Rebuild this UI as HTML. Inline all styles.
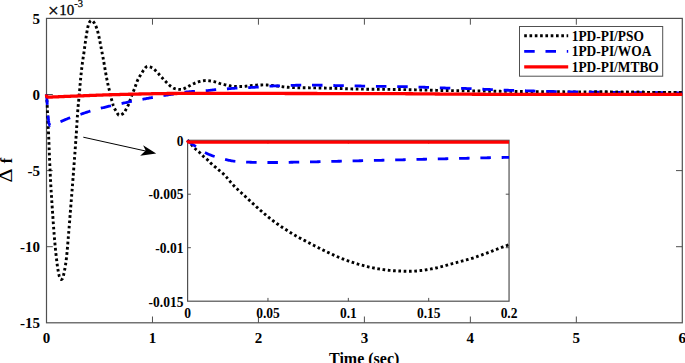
<!DOCTYPE html>
<html><head><meta charset="utf-8"><style>
html,body{margin:0;padding:0;background:#fff;width:685px;height:363px;overflow:hidden}
svg{display:block}
text{font-family:"Liberation Serif",serif;fill:#000}
.tl{font-size:15px;font-weight:bold}
.il{font-size:13.5px;font-weight:bold}
.lg{font-size:13.4px;font-weight:bold}
</style></head><body>
<svg width="685" height="363" viewBox="0 0 685 363">
<rect width="685" height="363" fill="#fff"/>
<rect x="46.5" y="18.4" width="635.80" height="304.40" fill="none" stroke="#505050" stroke-width="1.2"/>
<path d="M152.47,322.8 V316.5 M152.47,18.4 V24.7 M258.43,322.8 V316.5 M258.43,18.4 V24.7 M364.40,322.8 V316.5 M364.40,18.4 V24.7 M470.37,322.8 V316.5 M470.37,18.4 V24.7 M576.33,322.8 V316.5 M576.33,18.4 V24.7 M46.5,94.50 H52.8 M682.3,94.50 H676.0 M46.5,170.60 H52.8 M682.3,170.60 H676.0 M46.5,246.70 H52.8 M682.3,246.70 H676.0" stroke="#505050" stroke-width="1" fill="none"/>
<defs><clipPath id="tail"><rect x="592" y="0" width="100" height="363"/></clipPath></defs>
<g fill="none" stroke-linejoin="round">
<path d="M46.50,94.50 L46.57,95.42 L46.63,96.33 L46.70,97.25 L46.76,98.17 L46.82,99.08 L46.88,100.00 L46.94,100.92 L47.00,101.83 L47.05,102.75 L47.10,103.67 L47.15,104.58 L47.20,105.50 L47.25,106.45 L47.29,107.40 L47.33,108.35 L47.37,109.30 L47.41,110.25 L47.44,111.20 L47.48,112.15 L47.52,113.10 L47.56,114.05 L47.60,115.00 L47.64,115.91 L47.69,116.82 L47.73,117.73 L47.78,118.64 L47.82,119.55 L47.87,120.45 L47.91,121.36 L47.96,122.27 L48.01,123.18 L48.05,124.09 L48.10,125.00 L48.15,125.91 L48.19,126.82 L48.24,127.73 L48.29,128.64 L48.33,129.55 L48.38,130.45 L48.43,131.36 L48.47,132.27 L48.51,133.18 L48.56,134.09 L48.60,135.00 L48.64,135.96 L48.68,136.92 L48.73,137.88 L48.77,138.85 L48.81,139.81 L48.84,140.77 L48.88,141.73 L48.92,142.69 L48.96,143.65 L49.00,144.61 L49.03,145.58 L49.07,146.54 L49.10,147.50 L49.14,148.46 L49.18,149.42 L49.21,150.38 L49.25,151.35 L49.29,152.31 L49.32,153.27 L49.36,154.23 L49.40,155.19 L49.44,156.15 L49.48,157.12 L49.52,158.08 L49.56,159.04 L49.60,160.00 L49.64,160.96 L49.68,161.92 L49.73,162.89 L49.77,163.85 L49.81,164.81 L49.86,165.77 L49.90,166.73 L49.94,167.69 L49.99,168.66 L50.03,169.62 L50.07,170.58 L50.12,171.54 L50.17,172.50 L50.21,173.46 L50.26,174.43 L50.30,175.39 L50.35,176.35 L50.40,177.31 L50.45,178.27 L50.50,179.23 L50.54,180.19 L50.59,181.16 L50.64,182.12 L50.70,183.08 L50.75,184.04 L50.80,185.00 L50.85,185.96 L50.91,186.92 L50.96,187.89 L51.02,188.85 L51.08,189.81 L51.13,190.77 L51.19,191.73 L51.25,192.69 L51.31,193.66 L51.37,194.62 L51.44,195.58 L51.50,196.54 L51.56,197.50 L51.62,198.46 L51.69,199.43 L51.75,200.39 L51.81,201.35 L51.88,202.31 L51.94,203.27 L52.01,204.23 L52.07,205.19 L52.14,206.15 L52.20,207.12 L52.27,208.08 L52.33,209.04 L52.40,210.00 L52.47,210.96 L52.53,211.92 L52.60,212.89 L52.66,213.85 L52.73,214.81 L52.79,215.77 L52.86,216.73 L52.92,217.69 L52.99,218.66 L53.05,219.62 L53.12,220.58 L53.19,221.54 L53.25,222.50 L53.32,223.47 L53.39,224.43 L53.46,225.39 L53.53,226.35 L53.60,227.31 L53.67,228.27 L53.75,229.23 L53.82,230.20 L53.89,231.16 L53.97,232.12 L54.04,233.08 L54.12,234.04 L54.20,235.00 L54.28,235.96 L54.36,236.92 L54.44,237.88 L54.52,238.84 L54.60,239.80 L54.69,240.76 L54.77,241.72 L54.86,242.67 L54.94,243.63 L55.03,244.59 L55.12,245.55 L55.21,246.51 L55.30,247.47 L55.39,248.43 L55.48,249.39 L55.58,250.34 L55.68,251.30 L55.77,252.26 L55.87,253.22 L55.98,254.17 L56.08,255.13 L56.18,256.09 L56.29,257.04 L56.40,258.00 L56.51,258.93 L56.62,259.86 L56.72,260.80 L56.84,261.73 L56.95,262.66 L57.07,263.59 L57.19,264.52 L57.31,265.45 L57.45,266.38 L57.58,267.31 L57.73,268.24 L57.88,269.16 L58.03,270.08 L58.20,271.00 L58.36,271.90 L58.53,272.81 L58.71,273.72 L58.91,274.63 L59.13,275.53 L59.38,276.39 L59.67,277.22 L60.00,278.00 L60.57,278.96 L61.30,279.50 L62.01,279.15 L62.60,278.50 L62.95,277.75 L63.21,276.87 L63.43,275.91 L63.61,274.94 L63.80,274.00 L64.00,273.08 L64.19,272.15 L64.38,271.22 L64.56,270.29 L64.74,269.36 L64.91,268.43 L65.08,267.50 L65.24,266.56 L65.39,265.62 L65.54,264.69 L65.69,263.75 L65.82,262.81 L65.96,261.88 L66.08,260.94 L66.20,260.00 L66.32,259.04 L66.43,258.09 L66.54,257.13 L66.64,256.17 L66.74,255.21 L66.84,254.25 L66.94,253.29 L67.03,252.33 L67.12,251.37 L67.21,250.41 L67.30,249.44 L67.38,248.48 L67.47,247.52 L67.55,246.56 L67.63,245.59 L67.71,244.63 L67.79,243.67 L67.87,242.70 L67.94,241.74 L68.02,240.78 L68.10,239.81 L68.18,238.85 L68.26,237.89 L68.34,236.92 L68.42,235.96 L68.50,235.00 L68.58,234.04 L68.66,233.08 L68.74,232.12 L68.82,231.16 L68.90,230.19 L68.98,229.23 L69.06,228.27 L69.14,227.31 L69.21,226.35 L69.29,225.39 L69.37,224.42 L69.44,223.46 L69.52,222.50 L69.59,221.54 L69.67,220.58 L69.74,219.62 L69.82,218.65 L69.89,217.69 L69.97,216.73 L70.04,215.77 L70.12,214.81 L70.20,213.85 L70.27,212.88 L70.35,211.92 L70.42,210.96 L70.50,210.00 L70.58,209.04 L70.65,208.08 L70.73,207.12 L70.81,206.15 L70.89,205.19 L70.96,204.23 L71.04,203.27 L71.12,202.31 L71.20,201.35 L71.27,200.38 L71.35,199.42 L71.43,198.46 L71.51,197.50 L71.58,196.54 L71.66,195.58 L71.74,194.62 L71.82,193.65 L71.89,192.69 L71.97,191.73 L72.05,190.77 L72.12,189.81 L72.20,188.85 L72.27,187.88 L72.35,186.92 L72.42,185.96 L72.50,185.00 L72.57,184.04 L72.65,183.08 L72.72,182.12 L72.80,181.15 L72.87,180.19 L72.95,179.23 L73.02,178.27 L73.10,177.31 L73.17,176.35 L73.24,175.39 L73.32,174.42 L73.39,173.46 L73.46,172.50 L73.54,171.54 L73.61,170.58 L73.68,169.62 L73.75,168.65 L73.83,167.69 L73.90,166.73 L73.97,165.77 L74.04,164.81 L74.11,163.85 L74.19,162.88 L74.26,161.92 L74.33,160.96 L74.40,160.00 L74.47,159.04 L74.54,158.08 L74.61,157.12 L74.68,156.15 L74.75,155.19 L74.83,154.23 L74.90,153.27 L74.97,152.31 L75.04,151.35 L75.11,150.39 L75.18,149.42 L75.25,148.46 L75.32,147.50 L75.39,146.54 L75.46,145.58 L75.52,144.62 L75.59,143.65 L75.66,142.69 L75.73,141.73 L75.80,140.77 L75.87,139.81 L75.93,138.85 L76.00,137.89 L76.07,136.92 L76.13,135.96 L76.20,135.00 L76.27,134.04 L76.33,133.07 L76.39,132.11 L76.45,131.15 L76.51,130.18 L76.58,129.22 L76.63,128.26 L76.69,127.30 L76.75,126.33 L76.81,125.37 L76.87,124.40 L76.93,123.44 L76.99,122.48 L77.05,121.51 L77.10,120.55 L77.16,119.59 L77.23,118.63 L77.29,117.66 L77.35,116.70 L77.41,115.74 L77.48,114.77 L77.54,113.81 L77.61,112.85 L77.68,111.89 L77.75,110.92 L77.82,109.96 L77.90,109.00 L77.98,108.03 L78.06,107.05 L78.15,106.08 L78.24,105.10 L78.34,104.13 L78.43,103.16 L78.53,102.19 L78.63,101.21 L78.73,100.24 L78.83,99.27 L78.93,98.29 L79.02,97.32 L79.12,96.35 L79.21,95.37 L79.30,94.40 L79.39,93.44 L79.47,92.47 L79.55,91.51 L79.63,90.54 L79.71,89.58 L79.79,88.61 L79.87,87.65 L79.95,86.68 L80.02,85.72 L80.10,84.75 L80.18,83.79 L80.26,82.82 L80.35,81.86 L80.43,80.89 L80.52,79.93 L80.61,78.96 L80.70,78.00 L80.80,77.02 L80.90,76.03 L81.00,75.05 L81.10,74.07 L81.21,73.09 L81.32,72.11 L81.43,71.12 L81.54,70.14 L81.65,69.16 L81.77,68.18 L81.88,67.20 L82.00,66.22 L82.13,65.24 L82.25,64.26 L82.37,63.28 L82.50,62.30 L82.63,61.32 L82.77,60.33 L82.91,59.35 L83.06,58.37 L83.21,57.39 L83.36,56.41 L83.51,55.43 L83.66,54.45 L83.81,53.46 L83.96,52.48 L84.10,51.50 L84.23,50.56 L84.36,49.63 L84.49,48.69 L84.61,47.75 L84.73,46.82 L84.86,45.88 L84.98,44.94 L85.11,44.01 L85.24,43.07 L85.37,42.14 L85.50,41.20 L85.64,40.23 L85.78,39.26 L85.92,38.28 L86.06,37.31 L86.21,36.34 L86.35,35.37 L86.51,34.40 L86.66,33.43 L86.83,32.47 L87.00,31.50 L87.17,30.56 L87.34,29.62 L87.52,28.68 L87.71,27.75 L87.91,26.82 L88.14,25.90 L88.40,25.00 L88.70,24.07 L89.06,23.13 L89.49,22.25 L90.00,21.50 L90.64,20.85 L91.40,20.50 L92.18,20.78 L92.90,21.30 L93.46,21.88 L93.96,22.58 L94.40,23.30 L94.82,24.04 L95.23,24.80 L95.61,25.58 L95.97,26.38 L96.31,27.18 L96.62,27.99 L96.90,28.80 L97.20,29.73 L97.48,30.68 L97.74,31.63 L97.99,32.59 L98.22,33.55 L98.45,34.52 L98.67,35.49 L98.88,36.46 L99.09,37.43 L99.30,38.40 L99.50,39.33 L99.69,40.27 L99.88,41.20 L100.06,42.14 L100.24,43.07 L100.42,44.01 L100.60,44.95 L100.77,45.89 L100.94,46.83 L101.12,47.76 L101.30,48.70 L101.49,49.66 L101.67,50.62 L101.86,51.57 L102.04,52.53 L102.23,53.49 L102.41,54.45 L102.60,55.41 L102.78,56.36 L102.96,57.32 L103.15,58.28 L103.32,59.24 L103.50,60.20 L103.67,61.14 L103.83,62.07 L104.00,63.01 L104.16,63.95 L104.32,64.89 L104.48,65.83 L104.63,66.76 L104.79,67.70 L104.95,68.64 L105.11,69.58 L105.26,70.52 L105.43,71.45 L105.59,72.39 L105.76,73.33 L105.93,74.26 L106.10,75.20 L106.27,76.10 L106.44,77.00 L106.62,77.91 L106.79,78.81 L106.97,79.71 L107.15,80.61 L107.33,81.51 L107.52,82.41 L107.71,83.31 L107.90,84.21 L108.10,85.10 L108.30,86.00 L108.50,86.86 L108.71,87.72 L108.93,88.57 L109.16,89.43 L109.38,90.28 L109.59,91.14 L109.80,92.00 L110.01,92.92 L110.20,93.83 L110.39,94.75 L110.58,95.67 L110.78,96.59 L111.00,97.50 L111.24,98.40 L111.50,99.31 L111.76,100.20 L112.03,101.10 L112.30,102.00 L112.55,102.91 L112.79,103.82 L113.03,104.73 L113.30,105.62 L113.60,106.50 L113.92,107.28 L114.28,108.05 L114.68,108.81 L115.11,109.55 L115.55,110.28 L116.00,111.00 L116.50,111.85 L117.02,112.79 L117.56,113.72 L118.14,114.52 L118.75,115.09 L119.40,115.30 L120.18,115.17 L121.08,114.82 L122.01,114.33 L122.88,113.77 L123.60,113.20 L124.14,112.63 L124.62,111.95 L125.06,111.19 L125.48,110.38 L125.89,109.58 L126.30,108.80 L126.71,108.06 L127.12,107.32 L127.51,106.58 L127.89,105.83 L128.26,105.07 L128.60,104.30 L128.95,103.43 L129.28,102.56 L129.58,101.67 L129.89,100.78 L130.19,99.89 L130.50,99.00 L130.83,98.08 L131.16,97.16 L131.48,96.24 L131.82,95.33 L132.15,94.41 L132.50,93.50 L132.87,92.58 L133.25,91.66 L133.64,90.74 L134.03,89.82 L134.40,88.90 L134.76,87.97 L135.10,87.04 L135.43,86.09 L135.76,85.15 L136.09,84.21 L136.42,83.27 L136.76,82.33 L137.12,81.41 L137.50,80.50 L137.90,79.60 L138.32,78.75 L138.78,77.91 L139.26,77.07 L139.76,76.25 L140.28,75.43 L140.79,74.62 L141.30,73.80 L141.78,73.01 L142.25,72.22 L142.73,71.43 L143.22,70.65 L143.74,69.90 L144.30,69.20 L144.85,68.51 L145.44,67.77 L146.06,67.09 L146.71,66.59 L147.40,66.40 L148.16,66.47 L149.00,66.64 L149.87,66.89 L150.71,67.19 L151.50,67.50 L152.28,67.88 L153.04,68.37 L153.77,68.94 L154.47,69.55 L155.16,70.20 L155.84,70.86 L156.50,71.50 L157.10,72.10 L157.69,72.73 L158.25,73.38 L158.81,74.04 L159.37,74.70 L159.93,75.36 L160.50,76.00 L161.11,76.66 L161.72,77.32 L162.33,77.98 L162.95,78.64 L163.56,79.29 L164.18,79.95 L164.80,80.60 L165.47,81.31 L166.13,82.02 L166.81,82.72 L167.50,83.40 L168.21,84.08 L168.93,84.76 L169.66,85.42 L170.42,86.04 L171.20,86.60 L171.92,87.07 L172.66,87.54 L173.42,87.99 L174.20,88.39 L175.00,88.70 L175.80,88.90 L176.65,89.03 L177.54,89.15 L178.43,89.25 L179.33,89.33 L180.23,89.38 L181.10,89.40 L182.00,89.31 L182.90,89.07 L183.79,88.73 L184.67,88.32 L185.54,87.90 L186.40,87.50 L187.18,87.13 L187.95,86.72 L188.71,86.28 L189.47,85.84 L190.23,85.41 L191.00,85.00 L191.87,84.57 L192.74,84.14 L193.62,83.72 L194.51,83.32 L195.40,82.94 L196.30,82.60 L197.22,82.27 L198.16,81.96 L199.10,81.66 L200.05,81.41 L201.00,81.20 L201.86,81.04 L202.72,80.88 L203.59,80.73 L204.46,80.61 L205.33,80.53 L206.20,80.50 L207.08,80.53 L207.97,80.60 L208.86,80.70 L209.74,80.83 L210.62,80.96 L211.50,81.10 L212.37,81.25 L213.25,81.42 L214.12,81.62 L214.98,81.83 L215.85,82.06 L216.70,82.30 L217.65,82.61 L218.58,82.97 L219.51,83.35 L220.45,83.70 L221.40,84.00 L222.35,84.24 L223.31,84.45 L224.28,84.65 L225.26,84.83 L226.23,85.01 L227.20,85.20 L228.08,85.38 L228.96,85.58 L229.84,85.77 L230.73,85.95 L231.61,86.10 L232.50,86.20 L233.38,86.28 L234.26,86.35 L235.14,86.41 L236.03,86.46 L236.92,86.49 L237.80,86.50 L238.67,86.50 L239.53,86.50 L240.40,86.50 L241.27,86.50 L242.14,86.50 L243.00,86.50 L243.89,86.47 L244.77,86.39 L245.65,86.27 L246.53,86.14 L247.42,86.01 L248.30,85.90 L249.25,85.79 L250.20,85.68 L251.15,85.58 L252.10,85.47 L253.05,85.38 L254.00,85.30 L254.83,85.24 L255.67,85.18 L256.50,85.12 L257.33,85.07 L258.17,85.03 L259.00,85.00 L259.92,84.97 L260.83,84.95 L261.75,84.93 L262.67,84.91 L263.58,84.90 L264.50,84.90 L265.46,84.91 L266.41,84.95 L267.37,85.01 L268.32,85.08 L269.28,85.17 L270.23,85.27 L271.19,85.37 L272.14,85.48 L273.09,85.59 L274.05,85.70 L275.00,85.80 L275.96,85.90 L276.93,86.02 L277.89,86.15 L278.85,86.28 L279.82,86.41 L280.78,86.55 L281.74,86.68 L282.71,86.80 L283.67,86.91 L284.63,87.02 L285.60,87.10 L286.54,87.17 L287.49,87.25 L288.43,87.32 L289.38,87.39 L290.32,87.45 L291.27,87.51 L292.21,87.56 L293.16,87.61 L294.11,87.65 L295.05,87.68 L296.00,87.70 L296.96,87.71 L297.93,87.73 L298.89,87.74 L299.85,87.75 L300.82,87.75 L301.78,87.76 L302.74,87.77 L303.71,87.77 L304.67,87.78 L305.64,87.79 L306.60,87.80 L307.56,87.81 L308.53,87.82 L309.49,87.83 L310.45,87.84 L311.41,87.85 L312.38,87.86 L313.34,87.87 L314.30,87.89 L315.26,87.90 L316.23,87.91 L317.19,87.92 L318.15,87.94 L319.11,87.95 L320.08,87.97 L321.04,87.98 L322.00,88.00 L322.94,88.02 L323.89,88.04 L324.83,88.06 L325.78,88.09 L326.72,88.11 L327.67,88.14 L328.61,88.17 L329.56,88.20 L330.50,88.23 L331.44,88.26 L332.39,88.29 L333.33,88.32 L334.28,88.35 L335.22,88.38 L336.17,88.41 L337.11,88.44 L338.06,88.47 L339.00,88.50 L339.95,88.53 L340.91,88.56 L341.86,88.59 L342.82,88.62 L343.77,88.65 L344.73,88.68 L345.68,88.71 L346.64,88.74 L347.59,88.78 L348.54,88.81 L349.50,88.84 L350.45,88.87 L351.41,88.90 L352.36,88.93 L353.32,88.95 L354.27,88.98 L355.23,89.00 L356.18,89.03 L357.14,89.05 L358.09,89.07 L359.05,89.09 L360.00,89.10 L360.95,89.11 L361.91,89.13 L362.86,89.14 L363.82,89.15 L364.77,89.16 L365.73,89.17 L366.68,89.18 L367.64,89.18 L368.59,89.19 L369.55,89.20 L370.50,89.21 L371.45,89.21 L372.41,89.22 L373.36,89.23 L374.32,89.24 L375.27,89.25 L376.23,89.25 L377.18,89.26 L378.14,89.27 L379.09,89.28 L380.05,89.29 L381.00,89.30 L381.95,89.31 L382.91,89.32 L383.86,89.33 L384.82,89.35 L385.77,89.36 L386.73,89.37 L387.68,89.38 L388.64,89.40 L389.59,89.41 L390.55,89.42 L391.50,89.44 L392.45,89.45 L393.41,89.47 L394.36,89.48 L395.32,89.49 L396.27,89.51 L397.23,89.52 L398.18,89.54 L399.14,89.55 L400.09,89.57 L401.05,89.58 L402.00,89.60 L402.95,89.62 L403.91,89.63 L404.86,89.65 L405.82,89.66 L406.77,89.68 L407.73,89.70 L408.68,89.72 L409.64,89.73 L410.59,89.75 L411.55,89.77 L412.50,89.79 L413.45,89.81 L414.41,89.82 L415.36,89.84 L416.32,89.86 L417.27,89.88 L418.23,89.90 L419.18,89.92 L420.14,89.94 L421.09,89.96 L422.05,89.98 L423.00,90.00 L423.95,90.02 L424.91,90.04 L425.86,90.06 L426.82,90.09 L427.77,90.11 L428.73,90.14 L429.68,90.16 L430.64,90.18 L431.59,90.21 L432.55,90.23 L433.50,90.26 L434.45,90.28 L435.41,90.31 L436.36,90.33 L437.32,90.36 L438.27,90.38 L439.23,90.40 L440.18,90.42 L441.14,90.44 L442.09,90.46 L443.05,90.48 L444.00,90.50 L444.95,90.52 L445.91,90.53 L446.86,90.55 L447.82,90.56 L448.77,90.58 L449.73,90.59 L450.68,90.61 L451.64,90.62 L452.59,90.63 L453.55,90.64 L454.50,90.66 L455.45,90.67 L456.41,90.68 L457.36,90.69 L458.32,90.71 L459.27,90.72 L460.23,90.73 L461.18,90.75 L462.14,90.76 L463.09,90.77 L464.05,90.79 L465.00,90.80 L465.96,90.81 L466.92,90.83 L467.88,90.85 L468.85,90.86 L469.81,90.88 L470.77,90.89 L471.73,90.91 L472.69,90.93 L473.65,90.94 L474.62,90.96 L475.58,90.98 L476.54,90.99 L477.50,91.01 L478.46,91.02 L479.42,91.04 L480.38,91.06 L481.35,91.07 L482.31,91.09 L483.27,91.10 L484.23,91.12 L485.19,91.13 L486.15,91.15 L487.12,91.16 L488.08,91.18 L489.04,91.19 L490.00,91.20 L490.97,91.21 L491.94,91.22 L492.90,91.24 L493.87,91.25 L494.84,91.26 L495.81,91.27 L496.77,91.28 L497.74,91.29 L498.71,91.30 L499.68,91.31 L500.64,91.32 L501.61,91.33 L502.58,91.34 L503.55,91.35 L504.52,91.36 L505.48,91.37 L506.45,91.38 L507.42,91.39 L508.39,91.40 L509.35,91.41 L510.32,91.41 L511.29,91.42 L512.26,91.43 L513.23,91.44 L514.19,91.45 L515.16,91.46 L516.13,91.47 L517.10,91.47 L518.06,91.48 L519.03,91.49 L520.00,91.50 L520.98,91.51 L521.95,91.52 L522.93,91.53 L523.90,91.53 L524.88,91.54 L525.85,91.55 L526.83,91.56 L527.80,91.57 L528.78,91.57 L529.76,91.58 L530.73,91.59 L531.71,91.60 L532.68,91.61 L533.66,91.61 L534.63,91.62 L535.61,91.63 L536.59,91.64 L537.56,91.64 L538.54,91.65 L539.51,91.66 L540.49,91.67 L541.46,91.67 L542.44,91.68 L543.41,91.69 L544.39,91.70 L545.37,91.70 L546.34,91.71 L547.32,91.72 L548.29,91.72 L549.27,91.73 L550.24,91.74 L551.22,91.74 L552.20,91.75 L553.17,91.76 L554.15,91.76 L555.12,91.77 L556.10,91.78 L557.07,91.78 L558.05,91.79 L559.02,91.79 L560.00,91.80 L560.98,91.81 L561.95,91.81 L562.93,91.82 L563.90,91.82 L564.88,91.83 L565.85,91.83 L566.83,91.84 L567.80,91.84 L568.78,91.85 L569.76,91.85 L570.73,91.86 L571.71,91.86 L572.68,91.87 L573.66,91.87 L574.63,91.88 L575.61,91.88 L576.59,91.88 L577.56,91.89 L578.54,91.89 L579.51,91.90 L580.49,91.90 L581.46,91.91 L582.44,91.91 L583.41,91.92 L584.39,91.92 L585.37,91.92 L586.34,91.93 L587.32,91.93 L588.29,91.94 L589.27,91.94 L590.24,91.95 L591.22,91.95 L592.20,91.96 L593.17,91.96 L594.15,91.97 L595.12,91.97 L596.10,91.98 L597.07,91.98 L598.05,91.99 L599.02,91.99 L600.00,92.00 L600.98,92.01 L601.95,92.01 L602.93,92.02 L603.90,92.03 L604.88,92.03 L605.85,92.04 L606.83,92.05 L607.80,92.05 L608.78,92.06 L609.76,92.07 L610.73,92.08 L611.71,92.08 L612.68,92.09 L613.66,92.10 L614.63,92.11 L615.61,92.11 L616.59,92.12 L617.56,92.13 L618.54,92.14 L619.51,92.15 L620.49,92.15 L621.46,92.16 L622.44,92.17 L623.41,92.18 L624.39,92.19 L625.37,92.20 L626.34,92.20 L627.32,92.21 L628.29,92.22 L629.27,92.23 L630.24,92.23 L631.22,92.24 L632.20,92.25 L633.17,92.26 L634.15,92.26 L635.12,92.27 L636.10,92.28 L637.07,92.28 L638.05,92.29 L639.02,92.29 L640.00,92.30 L640.98,92.31 L641.97,92.31 L642.95,92.32 L643.93,92.32 L644.92,92.33 L645.90,92.33 L646.89,92.34 L647.87,92.34 L648.85,92.35 L649.84,92.36 L650.82,92.36 L651.80,92.37 L652.79,92.37 L653.77,92.38 L654.76,92.38 L655.74,92.39 L656.72,92.39 L657.71,92.40 L658.69,92.40 L659.67,92.41 L660.66,92.41 L661.64,92.42 L662.63,92.42 L663.61,92.42 L664.59,92.43 L665.58,92.43 L666.56,92.44 L667.54,92.44 L668.53,92.45 L669.51,92.45 L670.50,92.46 L671.48,92.46 L672.46,92.46 L673.45,92.47 L674.43,92.47 L675.41,92.48 L676.40,92.48 L677.38,92.48 L678.37,92.49 L679.35,92.49 L680.33,92.49 L681.32,92.50 L682.30,92.50" stroke="#000" stroke-width="2.9" stroke-dasharray="2.65 2.65"/>
<path d="M46.50,94.50 L46.58,95.47 L46.65,96.45 L46.73,97.42 L46.80,98.40 L46.87,99.34 L46.94,100.29 L47.02,101.23 L47.09,102.17 L47.16,103.11 L47.23,104.06 L47.30,105.00 L47.36,105.87 L47.43,106.75 L47.49,107.63 L47.55,108.50 L47.61,109.38 L47.67,110.25 L47.73,111.13 L47.80,112.00 L47.87,112.86 L47.93,113.72 L48.00,114.57 L48.06,115.43 L48.14,116.29 L48.21,117.14 L48.30,118.00 L48.39,118.84 L48.48,119.68 L48.58,120.52 L48.70,121.36 L48.84,122.19 L49.00,123.00 L49.23,124.03 L49.56,125.04 L50.00,125.50 L50.67,125.47 L51.50,125.40 L52.40,125.19 L53.27,124.83 L54.13,124.40 L55.00,124.00 L55.86,123.65 L56.72,123.29 L57.57,122.94 L58.43,122.58 L59.29,122.22 L60.14,121.86 L61.00,121.50 L61.86,121.14 L62.72,120.77 L63.57,120.40 L64.43,120.03 L65.28,119.65 L66.14,119.29 L67.00,118.93 L67.86,118.57 L68.73,118.23 L69.60,117.90 L70.50,117.57 L71.41,117.25 L72.33,116.94 L73.24,116.64 L74.16,116.34 L75.08,116.05 L76.00,115.76 L76.92,115.47 L77.84,115.18 L78.76,114.89 L79.68,114.60 L80.60,114.30 L81.54,113.99 L82.48,113.67 L83.42,113.35 L84.35,113.04 L85.29,112.72 L86.23,112.40 L87.17,112.09 L88.11,111.79 L89.05,111.49 L90.00,111.20 L90.91,110.93 L91.82,110.67 L92.74,110.40 L93.65,110.15 L94.57,109.90 L95.48,109.65 L96.40,109.40 L97.32,109.16 L98.24,108.92 L99.16,108.68 L100.08,108.44 L101.00,108.20 L101.90,107.97 L102.80,107.74 L103.69,107.52 L104.59,107.29 L105.49,107.07 L106.39,106.85 L107.29,106.63 L108.20,106.42 L109.10,106.21 L110.00,106.00 L110.94,105.79 L111.88,105.58 L112.82,105.38 L113.76,105.18 L114.70,104.98 L115.65,104.78 L116.59,104.59 L117.53,104.39 L118.47,104.20 L119.42,104.00 L120.36,103.80 L121.30,103.60 L122.27,103.39 L123.24,103.18 L124.21,102.97 L125.18,102.75 L126.15,102.54 L127.12,102.32 L128.09,102.11 L129.06,101.91 L130.03,101.70 L131.00,101.50 L131.96,101.31 L132.91,101.12 L133.87,100.93 L134.83,100.74 L135.79,100.56 L136.74,100.37 L137.70,100.19 L138.66,100.01 L139.62,99.83 L140.58,99.65 L141.54,99.48 L142.50,99.30 L143.42,99.13 L144.33,98.97 L145.25,98.80 L146.17,98.64 L147.09,98.47 L148.01,98.31 L148.93,98.15 L149.84,97.99 L150.76,97.82 L151.68,97.66 L152.60,97.50 L153.58,97.33 L154.56,97.15 L155.54,96.97 L156.53,96.80 L157.51,96.62 L158.49,96.44 L159.47,96.27 L160.45,96.10 L161.43,95.93 L162.42,95.76 L163.40,95.60 L164.35,95.45 L165.31,95.30 L166.26,95.15 L167.22,95.01 L168.17,94.86 L169.13,94.72 L170.08,94.58 L171.04,94.44 L171.99,94.30 L172.95,94.15 L173.90,94.00 L174.81,93.85 L175.72,93.70 L176.62,93.54 L177.53,93.37 L178.44,93.21 L179.34,93.04 L180.25,92.88 L181.16,92.73 L182.07,92.58 L182.98,92.44 L183.89,92.31 L184.80,92.20 L185.71,92.10 L186.61,92.00 L187.52,91.91 L188.43,91.82 L189.34,91.73 L190.25,91.65 L191.16,91.57 L192.07,91.50 L192.98,91.43 L193.89,91.36 L194.80,91.30 L195.73,91.24 L196.67,91.19 L197.60,91.14 L198.53,91.09 L199.47,91.05 L200.40,91.01 L201.34,90.96 L202.27,90.92 L203.20,90.87 L204.14,90.82 L205.07,90.76 L206.00,90.70 L206.99,90.62 L207.98,90.52 L208.97,90.41 L209.96,90.29 L210.95,90.17 L211.94,90.04 L212.93,89.92 L213.92,89.80 L214.91,89.69 L215.90,89.60 L216.84,89.52 L217.78,89.45 L218.72,89.37 L219.66,89.31 L220.61,89.24 L221.55,89.18 L222.49,89.11 L223.43,89.05 L224.37,88.99 L225.32,88.93 L226.26,88.87 L227.20,88.80 L228.11,88.73 L229.02,88.67 L229.93,88.60 L230.84,88.53 L231.74,88.46 L232.65,88.40 L233.56,88.33 L234.47,88.27 L235.38,88.21 L236.29,88.15 L237.20,88.10 L238.12,88.05 L239.03,88.01 L239.95,87.96 L240.87,87.92 L241.78,87.88 L242.70,87.84 L243.62,87.81 L244.53,87.77 L245.45,87.73 L246.37,87.69 L247.28,87.64 L248.20,87.60 L249.15,87.55 L250.11,87.50 L251.06,87.45 L252.02,87.40 L252.97,87.35 L253.93,87.29 L254.88,87.24 L255.84,87.18 L256.79,87.12 L257.75,87.06 L258.70,87.00 L259.64,86.93 L260.58,86.86 L261.53,86.78 L262.47,86.69 L263.41,86.60 L264.35,86.52 L265.29,86.43 L266.23,86.35 L267.17,86.27 L268.12,86.21 L269.06,86.15 L270.00,86.10 L270.91,86.06 L271.82,86.03 L272.73,86.00 L273.63,85.97 L274.54,85.95 L275.45,85.93 L276.36,85.90 L277.27,85.88 L278.18,85.85 L279.09,85.83 L280.00,85.80 L280.92,85.77 L281.83,85.74 L282.75,85.70 L283.67,85.66 L284.58,85.63 L285.50,85.59 L286.42,85.55 L287.33,85.52 L288.25,85.49 L289.17,85.45 L290.08,85.43 L291.00,85.40 L291.97,85.37 L292.94,85.35 L293.91,85.32 L294.88,85.29 L295.85,85.27 L296.82,85.25 L297.79,85.23 L298.76,85.21 L299.73,85.20 L300.70,85.20 L301.65,85.20 L302.61,85.20 L303.56,85.20 L304.51,85.20 L305.47,85.20 L306.42,85.20 L307.37,85.20 L308.33,85.20 L309.28,85.20 L310.23,85.20 L311.19,85.20 L312.14,85.20 L313.09,85.20 L314.05,85.20 L315.00,85.20 L315.96,85.20 L316.92,85.21 L317.88,85.21 L318.83,85.22 L319.79,85.23 L320.75,85.24 L321.71,85.26 L322.67,85.27 L323.63,85.29 L324.58,85.31 L325.54,85.33 L326.50,85.35 L327.46,85.37 L328.42,85.39 L329.38,85.41 L330.33,85.44 L331.29,85.46 L332.25,85.48 L333.21,85.50 L334.17,85.52 L335.13,85.54 L336.08,85.56 L337.04,85.58 L338.00,85.60 L338.96,85.62 L339.91,85.63 L340.87,85.65 L341.83,85.67 L342.78,85.69 L343.74,85.70 L344.70,85.72 L345.65,85.74 L346.61,85.75 L347.57,85.77 L348.52,85.79 L349.48,85.81 L350.43,85.82 L351.39,85.84 L352.35,85.86 L353.30,85.88 L354.26,85.89 L355.22,85.91 L356.17,85.93 L357.13,85.95 L358.09,85.96 L359.04,85.98 L360.00,86.00 L360.95,86.02 L361.91,86.04 L362.86,86.06 L363.82,86.07 L364.77,86.09 L365.73,86.11 L366.68,86.13 L367.64,86.15 L368.59,86.17 L369.55,86.19 L370.50,86.21 L371.45,86.23 L372.41,86.25 L373.36,86.27 L374.32,86.29 L375.27,86.31 L376.23,86.32 L377.18,86.34 L378.14,86.36 L379.09,86.37 L380.05,86.39 L381.00,86.40 L381.95,86.41 L382.90,86.42 L383.85,86.43 L384.80,86.44 L385.75,86.45 L386.70,86.46 L387.65,86.47 L388.60,86.48 L389.55,86.49 L390.50,86.50 L391.45,86.51 L392.40,86.51 L393.35,86.52 L394.30,86.53 L395.25,86.54 L396.20,86.55 L397.15,86.56 L398.10,86.57 L399.05,86.59 L400.00,86.60 L400.96,86.61 L401.92,86.63 L402.88,86.65 L403.83,86.67 L404.79,86.69 L405.75,86.71 L406.71,86.73 L407.67,86.75 L408.63,86.78 L409.58,86.80 L410.54,86.83 L411.50,86.86 L412.46,86.88 L413.42,86.91 L414.38,86.94 L415.33,86.97 L416.29,86.99 L417.25,87.02 L418.21,87.05 L419.17,87.08 L420.13,87.11 L421.08,87.14 L422.04,87.17 L423.00,87.20 L423.96,87.23 L424.91,87.26 L425.87,87.29 L426.83,87.33 L427.78,87.36 L428.74,87.40 L429.70,87.44 L430.65,87.47 L431.61,87.51 L432.57,87.55 L433.52,87.59 L434.48,87.62 L435.43,87.66 L436.39,87.70 L437.35,87.74 L438.30,87.77 L439.26,87.81 L440.22,87.84 L441.17,87.88 L442.13,87.91 L443.09,87.94 L444.04,87.97 L445.00,88.00 L445.95,88.03 L446.91,88.05 L447.86,88.08 L448.82,88.10 L449.77,88.12 L450.73,88.14 L451.68,88.16 L452.64,88.19 L453.59,88.21 L454.55,88.23 L455.50,88.25 L456.46,88.27 L457.41,88.29 L458.36,88.31 L459.32,88.33 L460.27,88.35 L461.23,88.37 L462.18,88.39 L463.14,88.42 L464.09,88.44 L465.05,88.47 L466.00,88.50 L466.95,88.53 L467.91,88.56 L468.86,88.60 L469.82,88.63 L470.77,88.67 L471.73,88.71 L472.68,88.75 L473.64,88.79 L474.59,88.83 L475.55,88.88 L476.50,88.92 L477.46,88.96 L478.41,89.01 L479.36,89.05 L480.32,89.10 L481.27,89.14 L482.23,89.19 L483.18,89.23 L484.14,89.28 L485.09,89.32 L486.05,89.36 L487.00,89.40 L487.96,89.44 L488.91,89.48 L489.87,89.52 L490.83,89.56 L491.78,89.60 L492.74,89.65 L493.70,89.69 L494.65,89.73 L495.61,89.77 L496.56,89.81 L497.52,89.85 L498.48,89.89 L499.43,89.93 L500.39,89.97 L501.35,90.01 L502.30,90.05 L503.26,90.09 L504.22,90.13 L505.17,90.16 L506.13,90.20 L507.09,90.23 L508.04,90.27 L509.00,90.30 L509.95,90.33 L510.91,90.36 L511.86,90.39 L512.82,90.42 L513.77,90.45 L514.73,90.48 L515.68,90.51 L516.64,90.53 L517.59,90.56 L518.54,90.59 L519.50,90.61 L520.45,90.64 L521.41,90.66 L522.36,90.69 L523.32,90.72 L524.27,90.74 L525.23,90.77 L526.18,90.79 L527.14,90.82 L528.09,90.85 L529.05,90.87 L530.00,90.90 L530.95,90.93 L531.91,90.96 L532.86,90.98 L533.82,91.01 L534.77,91.04 L535.73,91.07 L536.68,91.10 L537.64,91.13 L538.59,91.16 L539.55,91.19 L540.50,91.22 L541.45,91.25 L542.41,91.27 L543.36,91.30 L544.32,91.33 L545.27,91.36 L546.23,91.38 L547.18,91.41 L548.14,91.43 L549.09,91.46 L550.05,91.48 L551.00,91.50 L551.97,91.52 L552.93,91.54 L553.90,91.56 L554.87,91.58 L555.83,91.60 L556.80,91.62 L557.77,91.64 L558.73,91.66 L559.70,91.67 L560.67,91.69 L561.63,91.71 L562.60,91.73 L563.57,91.74 L564.53,91.76 L565.50,91.77 L566.47,91.79 L567.43,91.81 L568.40,91.82 L569.37,91.84 L570.33,91.85 L571.30,91.87 L572.27,91.88 L573.23,91.90 L574.20,91.91 L575.17,91.93 L576.13,91.94 L577.10,91.96 L578.07,91.97 L579.03,91.99 L580.00,92.00 L580.97,92.01 L581.94,92.03 L582.90,92.04 L583.87,92.06 L584.84,92.07 L585.81,92.09 L586.77,92.10 L587.74,92.12 L588.71,92.13 L589.68,92.15 L590.64,92.16 L591.61,92.17 L592.58,92.19 L593.55,92.20 L594.52,92.22 L595.48,92.23 L596.45,92.24 L597.42,92.26 L598.39,92.27 L599.35,92.28 L600.32,92.29 L601.29,92.31 L602.26,92.32 L603.23,92.33 L604.19,92.34 L605.16,92.35 L606.13,92.36 L607.10,92.37 L608.06,92.38 L609.03,92.39 L610.00,92.40 L610.97,92.41 L611.94,92.42 L612.90,92.42 L613.87,92.43 L614.84,92.44 L615.81,92.45 L616.77,92.46 L617.74,92.46 L618.71,92.47 L619.68,92.48 L620.65,92.48 L621.61,92.49 L622.58,92.50 L623.55,92.50 L624.52,92.51 L625.48,92.52 L626.45,92.52 L627.42,92.53 L628.39,92.53 L629.35,92.54 L630.32,92.54 L631.29,92.55 L632.26,92.56 L633.23,92.56 L634.19,92.57 L635.16,92.57 L636.13,92.58 L637.10,92.58 L638.06,92.59 L639.03,92.59 L640.00,92.60 L640.98,92.61 L641.97,92.61 L642.95,92.62 L643.93,92.62 L644.92,92.63 L645.90,92.63 L646.89,92.64 L647.87,92.64 L648.85,92.65 L649.84,92.65 L650.82,92.66 L651.80,92.66 L652.79,92.67 L653.77,92.67 L654.76,92.68 L655.74,92.68 L656.72,92.69 L657.71,92.69 L658.69,92.70 L659.67,92.70 L660.66,92.71 L661.64,92.71 L662.63,92.72 L663.61,92.72 L664.59,92.73 L665.58,92.73 L666.56,92.74 L667.54,92.74 L668.53,92.74 L669.51,92.75 L670.50,92.75 L671.48,92.76 L672.46,92.76 L673.45,92.77 L674.43,92.77 L675.41,92.77 L676.40,92.78 L677.38,92.78 L678.37,92.79 L679.35,92.79 L680.33,92.79 L681.32,92.80 L682.30,92.80" stroke="#0000ff" stroke-width="2.8" stroke-dasharray="10.5 10.8"/>
<path d="M46.50,94.50 L46.57,95.42 L46.63,96.33 L46.70,97.25 L46.76,98.17 L46.82,99.08 L46.88,100.00 L46.94,100.92 L47.00,101.83 L47.05,102.75 L47.10,103.67 L47.15,104.58 L47.20,105.50 L47.25,106.45 L47.29,107.40 L47.33,108.35 L47.37,109.30 L47.41,110.25 L47.44,111.20 L47.48,112.15 L47.52,113.10 L47.56,114.05 L47.60,115.00 L47.64,115.91 L47.69,116.82 L47.73,117.73 L47.78,118.64 L47.82,119.55 L47.87,120.45 L47.91,121.36 L47.96,122.27 L48.01,123.18 L48.05,124.09 L48.10,125.00 L48.15,125.91 L48.19,126.82 L48.24,127.73 L48.29,128.64 L48.33,129.55 L48.38,130.45 L48.43,131.36 L48.47,132.27 L48.51,133.18 L48.56,134.09 L48.60,135.00 L48.64,135.96 L48.68,136.92 L48.73,137.88 L48.77,138.85 L48.81,139.81 L48.84,140.77 L48.88,141.73 L48.92,142.69 L48.96,143.65 L49.00,144.61 L49.03,145.58 L49.07,146.54 L49.10,147.50 L49.14,148.46 L49.18,149.42 L49.21,150.38 L49.25,151.35 L49.29,152.31 L49.32,153.27 L49.36,154.23 L49.40,155.19 L49.44,156.15 L49.48,157.12 L49.52,158.08 L49.56,159.04 L49.60,160.00 L49.64,160.96 L49.68,161.92 L49.73,162.89 L49.77,163.85 L49.81,164.81 L49.86,165.77 L49.90,166.73 L49.94,167.69 L49.99,168.66 L50.03,169.62 L50.07,170.58 L50.12,171.54 L50.17,172.50 L50.21,173.46 L50.26,174.43 L50.30,175.39 L50.35,176.35 L50.40,177.31 L50.45,178.27 L50.50,179.23 L50.54,180.19 L50.59,181.16 L50.64,182.12 L50.70,183.08 L50.75,184.04 L50.80,185.00 L50.85,185.96 L50.91,186.92 L50.96,187.89 L51.02,188.85 L51.08,189.81 L51.13,190.77 L51.19,191.73 L51.25,192.69 L51.31,193.66 L51.37,194.62 L51.44,195.58 L51.50,196.54 L51.56,197.50 L51.62,198.46 L51.69,199.43 L51.75,200.39 L51.81,201.35 L51.88,202.31 L51.94,203.27 L52.01,204.23 L52.07,205.19 L52.14,206.15 L52.20,207.12 L52.27,208.08 L52.33,209.04 L52.40,210.00 L52.47,210.96 L52.53,211.92 L52.60,212.89 L52.66,213.85 L52.73,214.81 L52.79,215.77 L52.86,216.73 L52.92,217.69 L52.99,218.66 L53.05,219.62 L53.12,220.58 L53.19,221.54 L53.25,222.50 L53.32,223.47 L53.39,224.43 L53.46,225.39 L53.53,226.35 L53.60,227.31 L53.67,228.27 L53.75,229.23 L53.82,230.20 L53.89,231.16 L53.97,232.12 L54.04,233.08 L54.12,234.04 L54.20,235.00 L54.28,235.96 L54.36,236.92 L54.44,237.88 L54.52,238.84 L54.60,239.80 L54.69,240.76 L54.77,241.72 L54.86,242.67 L54.94,243.63 L55.03,244.59 L55.12,245.55 L55.21,246.51 L55.30,247.47 L55.39,248.43 L55.48,249.39 L55.58,250.34 L55.68,251.30 L55.77,252.26 L55.87,253.22 L55.98,254.17 L56.08,255.13 L56.18,256.09 L56.29,257.04 L56.40,258.00 L56.51,258.93 L56.62,259.86 L56.72,260.80 L56.84,261.73 L56.95,262.66 L57.07,263.59 L57.19,264.52 L57.31,265.45 L57.45,266.38 L57.58,267.31 L57.73,268.24 L57.88,269.16 L58.03,270.08 L58.20,271.00 L58.36,271.90 L58.53,272.81 L58.71,273.72 L58.91,274.63 L59.13,275.53 L59.38,276.39 L59.67,277.22 L60.00,278.00 L60.57,278.96 L61.30,279.50 L62.01,279.15 L62.60,278.50 L62.95,277.75 L63.21,276.87 L63.43,275.91 L63.61,274.94 L63.80,274.00 L64.00,273.08 L64.19,272.15 L64.38,271.22 L64.56,270.29 L64.74,269.36 L64.91,268.43 L65.08,267.50 L65.24,266.56 L65.39,265.62 L65.54,264.69 L65.69,263.75 L65.82,262.81 L65.96,261.88 L66.08,260.94 L66.20,260.00 L66.32,259.04 L66.43,258.09 L66.54,257.13 L66.64,256.17 L66.74,255.21 L66.84,254.25 L66.94,253.29 L67.03,252.33 L67.12,251.37 L67.21,250.41 L67.30,249.44 L67.38,248.48 L67.47,247.52 L67.55,246.56 L67.63,245.59 L67.71,244.63 L67.79,243.67 L67.87,242.70 L67.94,241.74 L68.02,240.78 L68.10,239.81 L68.18,238.85 L68.26,237.89 L68.34,236.92 L68.42,235.96 L68.50,235.00 L68.58,234.04 L68.66,233.08 L68.74,232.12 L68.82,231.16 L68.90,230.19 L68.98,229.23 L69.06,228.27 L69.14,227.31 L69.21,226.35 L69.29,225.39 L69.37,224.42 L69.44,223.46 L69.52,222.50 L69.59,221.54 L69.67,220.58 L69.74,219.62 L69.82,218.65 L69.89,217.69 L69.97,216.73 L70.04,215.77 L70.12,214.81 L70.20,213.85 L70.27,212.88 L70.35,211.92 L70.42,210.96 L70.50,210.00 L70.58,209.04 L70.65,208.08 L70.73,207.12 L70.81,206.15 L70.89,205.19 L70.96,204.23 L71.04,203.27 L71.12,202.31 L71.20,201.35 L71.27,200.38 L71.35,199.42 L71.43,198.46 L71.51,197.50 L71.58,196.54 L71.66,195.58 L71.74,194.62 L71.82,193.65 L71.89,192.69 L71.97,191.73 L72.05,190.77 L72.12,189.81 L72.20,188.85 L72.27,187.88 L72.35,186.92 L72.42,185.96 L72.50,185.00 L72.57,184.04 L72.65,183.08 L72.72,182.12 L72.80,181.15 L72.87,180.19 L72.95,179.23 L73.02,178.27 L73.10,177.31 L73.17,176.35 L73.24,175.39 L73.32,174.42 L73.39,173.46 L73.46,172.50 L73.54,171.54 L73.61,170.58 L73.68,169.62 L73.75,168.65 L73.83,167.69 L73.90,166.73 L73.97,165.77 L74.04,164.81 L74.11,163.85 L74.19,162.88 L74.26,161.92 L74.33,160.96 L74.40,160.00 L74.47,159.04 L74.54,158.08 L74.61,157.12 L74.68,156.15 L74.75,155.19 L74.83,154.23 L74.90,153.27 L74.97,152.31 L75.04,151.35 L75.11,150.39 L75.18,149.42 L75.25,148.46 L75.32,147.50 L75.39,146.54 L75.46,145.58 L75.52,144.62 L75.59,143.65 L75.66,142.69 L75.73,141.73 L75.80,140.77 L75.87,139.81 L75.93,138.85 L76.00,137.89 L76.07,136.92 L76.13,135.96 L76.20,135.00 L76.27,134.04 L76.33,133.07 L76.39,132.11 L76.45,131.15 L76.51,130.18 L76.58,129.22 L76.63,128.26 L76.69,127.30 L76.75,126.33 L76.81,125.37 L76.87,124.40 L76.93,123.44 L76.99,122.48 L77.05,121.51 L77.10,120.55 L77.16,119.59 L77.23,118.63 L77.29,117.66 L77.35,116.70 L77.41,115.74 L77.48,114.77 L77.54,113.81 L77.61,112.85 L77.68,111.89 L77.75,110.92 L77.82,109.96 L77.90,109.00 L77.98,108.03 L78.06,107.05 L78.15,106.08 L78.24,105.10 L78.34,104.13 L78.43,103.16 L78.53,102.19 L78.63,101.21 L78.73,100.24 L78.83,99.27 L78.93,98.29 L79.02,97.32 L79.12,96.35 L79.21,95.37 L79.30,94.40 L79.39,93.44 L79.47,92.47 L79.55,91.51 L79.63,90.54 L79.71,89.58 L79.79,88.61 L79.87,87.65 L79.95,86.68 L80.02,85.72 L80.10,84.75 L80.18,83.79 L80.26,82.82 L80.35,81.86 L80.43,80.89 L80.52,79.93 L80.61,78.96 L80.70,78.00 L80.80,77.02 L80.90,76.03 L81.00,75.05 L81.10,74.07 L81.21,73.09 L81.32,72.11 L81.43,71.12 L81.54,70.14 L81.65,69.16 L81.77,68.18 L81.88,67.20 L82.00,66.22 L82.13,65.24 L82.25,64.26 L82.37,63.28 L82.50,62.30 L82.63,61.32 L82.77,60.33 L82.91,59.35 L83.06,58.37 L83.21,57.39 L83.36,56.41 L83.51,55.43 L83.66,54.45 L83.81,53.46 L83.96,52.48 L84.10,51.50 L84.23,50.56 L84.36,49.63 L84.49,48.69 L84.61,47.75 L84.73,46.82 L84.86,45.88 L84.98,44.94 L85.11,44.01 L85.24,43.07 L85.37,42.14 L85.50,41.20 L85.64,40.23 L85.78,39.26 L85.92,38.28 L86.06,37.31 L86.21,36.34 L86.35,35.37 L86.51,34.40 L86.66,33.43 L86.83,32.47 L87.00,31.50 L87.17,30.56 L87.34,29.62 L87.52,28.68 L87.71,27.75 L87.91,26.82 L88.14,25.90 L88.40,25.00 L88.70,24.07 L89.06,23.13 L89.49,22.25 L90.00,21.50 L90.64,20.85 L91.40,20.50 L92.18,20.78 L92.90,21.30 L93.46,21.88 L93.96,22.58 L94.40,23.30 L94.82,24.04 L95.23,24.80 L95.61,25.58 L95.97,26.38 L96.31,27.18 L96.62,27.99 L96.90,28.80 L97.20,29.73 L97.48,30.68 L97.74,31.63 L97.99,32.59 L98.22,33.55 L98.45,34.52 L98.67,35.49 L98.88,36.46 L99.09,37.43 L99.30,38.40 L99.50,39.33 L99.69,40.27 L99.88,41.20 L100.06,42.14 L100.24,43.07 L100.42,44.01 L100.60,44.95 L100.77,45.89 L100.94,46.83 L101.12,47.76 L101.30,48.70 L101.49,49.66 L101.67,50.62 L101.86,51.57 L102.04,52.53 L102.23,53.49 L102.41,54.45 L102.60,55.41 L102.78,56.36 L102.96,57.32 L103.15,58.28 L103.32,59.24 L103.50,60.20 L103.67,61.14 L103.83,62.07 L104.00,63.01 L104.16,63.95 L104.32,64.89 L104.48,65.83 L104.63,66.76 L104.79,67.70 L104.95,68.64 L105.11,69.58 L105.26,70.52 L105.43,71.45 L105.59,72.39 L105.76,73.33 L105.93,74.26 L106.10,75.20 L106.27,76.10 L106.44,77.00 L106.62,77.91 L106.79,78.81 L106.97,79.71 L107.15,80.61 L107.33,81.51 L107.52,82.41 L107.71,83.31 L107.90,84.21 L108.10,85.10 L108.30,86.00 L108.50,86.86 L108.71,87.72 L108.93,88.57 L109.16,89.43 L109.38,90.28 L109.59,91.14 L109.80,92.00 L110.01,92.92 L110.20,93.83 L110.39,94.75 L110.58,95.67 L110.78,96.59 L111.00,97.50 L111.24,98.40 L111.50,99.31 L111.76,100.20 L112.03,101.10 L112.30,102.00 L112.55,102.91 L112.79,103.82 L113.03,104.73 L113.30,105.62 L113.60,106.50 L113.92,107.28 L114.28,108.05 L114.68,108.81 L115.11,109.55 L115.55,110.28 L116.00,111.00 L116.50,111.85 L117.02,112.79 L117.56,113.72 L118.14,114.52 L118.75,115.09 L119.40,115.30 L120.18,115.17 L121.08,114.82 L122.01,114.33 L122.88,113.77 L123.60,113.20 L124.14,112.63 L124.62,111.95 L125.06,111.19 L125.48,110.38 L125.89,109.58 L126.30,108.80 L126.71,108.06 L127.12,107.32 L127.51,106.58 L127.89,105.83 L128.26,105.07 L128.60,104.30 L128.95,103.43 L129.28,102.56 L129.58,101.67 L129.89,100.78 L130.19,99.89 L130.50,99.00 L130.83,98.08 L131.16,97.16 L131.48,96.24 L131.82,95.33 L132.15,94.41 L132.50,93.50 L132.87,92.58 L133.25,91.66 L133.64,90.74 L134.03,89.82 L134.40,88.90 L134.76,87.97 L135.10,87.04 L135.43,86.09 L135.76,85.15 L136.09,84.21 L136.42,83.27 L136.76,82.33 L137.12,81.41 L137.50,80.50 L137.90,79.60 L138.32,78.75 L138.78,77.91 L139.26,77.07 L139.76,76.25 L140.28,75.43 L140.79,74.62 L141.30,73.80 L141.78,73.01 L142.25,72.22 L142.73,71.43 L143.22,70.65 L143.74,69.90 L144.30,69.20 L144.85,68.51 L145.44,67.77 L146.06,67.09 L146.71,66.59 L147.40,66.40 L148.16,66.47 L149.00,66.64 L149.87,66.89 L150.71,67.19 L151.50,67.50 L152.28,67.88 L153.04,68.37 L153.77,68.94 L154.47,69.55 L155.16,70.20 L155.84,70.86 L156.50,71.50 L157.10,72.10 L157.69,72.73 L158.25,73.38 L158.81,74.04 L159.37,74.70 L159.93,75.36 L160.50,76.00 L161.11,76.66 L161.72,77.32 L162.33,77.98 L162.95,78.64 L163.56,79.29 L164.18,79.95 L164.80,80.60 L165.47,81.31 L166.13,82.02 L166.81,82.72 L167.50,83.40 L168.21,84.08 L168.93,84.76 L169.66,85.42 L170.42,86.04 L171.20,86.60 L171.92,87.07 L172.66,87.54 L173.42,87.99 L174.20,88.39 L175.00,88.70 L175.80,88.90 L176.65,89.03 L177.54,89.15 L178.43,89.25 L179.33,89.33 L180.23,89.38 L181.10,89.40 L182.00,89.31 L182.90,89.07 L183.79,88.73 L184.67,88.32 L185.54,87.90 L186.40,87.50 L187.18,87.13 L187.95,86.72 L188.71,86.28 L189.47,85.84 L190.23,85.41 L191.00,85.00 L191.87,84.57 L192.74,84.14 L193.62,83.72 L194.51,83.32 L195.40,82.94 L196.30,82.60 L197.22,82.27 L198.16,81.96 L199.10,81.66 L200.05,81.41 L201.00,81.20 L201.86,81.04 L202.72,80.88 L203.59,80.73 L204.46,80.61 L205.33,80.53 L206.20,80.50 L207.08,80.53 L207.97,80.60 L208.86,80.70 L209.74,80.83 L210.62,80.96 L211.50,81.10 L212.37,81.25 L213.25,81.42 L214.12,81.62 L214.98,81.83 L215.85,82.06 L216.70,82.30 L217.65,82.61 L218.58,82.97 L219.51,83.35 L220.45,83.70 L221.40,84.00 L222.35,84.24 L223.31,84.45 L224.28,84.65 L225.26,84.83 L226.23,85.01 L227.20,85.20 L228.08,85.38 L228.96,85.58 L229.84,85.77 L230.73,85.95 L231.61,86.10 L232.50,86.20 L233.38,86.28 L234.26,86.35 L235.14,86.41 L236.03,86.46 L236.92,86.49 L237.80,86.50 L238.67,86.50 L239.53,86.50 L240.40,86.50 L241.27,86.50 L242.14,86.50 L243.00,86.50 L243.89,86.47 L244.77,86.39 L245.65,86.27 L246.53,86.14 L247.42,86.01 L248.30,85.90 L249.25,85.79 L250.20,85.68 L251.15,85.58 L252.10,85.47 L253.05,85.38 L254.00,85.30 L254.83,85.24 L255.67,85.18 L256.50,85.12 L257.33,85.07 L258.17,85.03 L259.00,85.00 L259.92,84.97 L260.83,84.95 L261.75,84.93 L262.67,84.91 L263.58,84.90 L264.50,84.90 L265.46,84.91 L266.41,84.95 L267.37,85.01 L268.32,85.08 L269.28,85.17 L270.23,85.27 L271.19,85.37 L272.14,85.48 L273.09,85.59 L274.05,85.70 L275.00,85.80 L275.96,85.90 L276.93,86.02 L277.89,86.15 L278.85,86.28 L279.82,86.41 L280.78,86.55 L281.74,86.68 L282.71,86.80 L283.67,86.91 L284.63,87.02 L285.60,87.10 L286.54,87.17 L287.49,87.25 L288.43,87.32 L289.38,87.39 L290.32,87.45 L291.27,87.51 L292.21,87.56 L293.16,87.61 L294.11,87.65 L295.05,87.68 L296.00,87.70 L296.96,87.71 L297.93,87.73 L298.89,87.74 L299.85,87.75 L300.82,87.75 L301.78,87.76 L302.74,87.77 L303.71,87.77 L304.67,87.78 L305.64,87.79 L306.60,87.80 L307.56,87.81 L308.53,87.82 L309.49,87.83 L310.45,87.84 L311.41,87.85 L312.38,87.86 L313.34,87.87 L314.30,87.89 L315.26,87.90 L316.23,87.91 L317.19,87.92 L318.15,87.94 L319.11,87.95 L320.08,87.97 L321.04,87.98 L322.00,88.00 L322.94,88.02 L323.89,88.04 L324.83,88.06 L325.78,88.09 L326.72,88.11 L327.67,88.14 L328.61,88.17 L329.56,88.20 L330.50,88.23 L331.44,88.26 L332.39,88.29 L333.33,88.32 L334.28,88.35 L335.22,88.38 L336.17,88.41 L337.11,88.44 L338.06,88.47 L339.00,88.50 L339.95,88.53 L340.91,88.56 L341.86,88.59 L342.82,88.62 L343.77,88.65 L344.73,88.68 L345.68,88.71 L346.64,88.74 L347.59,88.78 L348.54,88.81 L349.50,88.84 L350.45,88.87 L351.41,88.90 L352.36,88.93 L353.32,88.95 L354.27,88.98 L355.23,89.00 L356.18,89.03 L357.14,89.05 L358.09,89.07 L359.05,89.09 L360.00,89.10 L360.95,89.11 L361.91,89.13 L362.86,89.14 L363.82,89.15 L364.77,89.16 L365.73,89.17 L366.68,89.18 L367.64,89.18 L368.59,89.19 L369.55,89.20 L370.50,89.21 L371.45,89.21 L372.41,89.22 L373.36,89.23 L374.32,89.24 L375.27,89.25 L376.23,89.25 L377.18,89.26 L378.14,89.27 L379.09,89.28 L380.05,89.29 L381.00,89.30 L381.95,89.31 L382.91,89.32 L383.86,89.33 L384.82,89.35 L385.77,89.36 L386.73,89.37 L387.68,89.38 L388.64,89.40 L389.59,89.41 L390.55,89.42 L391.50,89.44 L392.45,89.45 L393.41,89.47 L394.36,89.48 L395.32,89.49 L396.27,89.51 L397.23,89.52 L398.18,89.54 L399.14,89.55 L400.09,89.57 L401.05,89.58 L402.00,89.60 L402.95,89.62 L403.91,89.63 L404.86,89.65 L405.82,89.66 L406.77,89.68 L407.73,89.70 L408.68,89.72 L409.64,89.73 L410.59,89.75 L411.55,89.77 L412.50,89.79 L413.45,89.81 L414.41,89.82 L415.36,89.84 L416.32,89.86 L417.27,89.88 L418.23,89.90 L419.18,89.92 L420.14,89.94 L421.09,89.96 L422.05,89.98 L423.00,90.00 L423.95,90.02 L424.91,90.04 L425.86,90.06 L426.82,90.09 L427.77,90.11 L428.73,90.14 L429.68,90.16 L430.64,90.18 L431.59,90.21 L432.55,90.23 L433.50,90.26 L434.45,90.28 L435.41,90.31 L436.36,90.33 L437.32,90.36 L438.27,90.38 L439.23,90.40 L440.18,90.42 L441.14,90.44 L442.09,90.46 L443.05,90.48 L444.00,90.50 L444.95,90.52 L445.91,90.53 L446.86,90.55 L447.82,90.56 L448.77,90.58 L449.73,90.59 L450.68,90.61 L451.64,90.62 L452.59,90.63 L453.55,90.64 L454.50,90.66 L455.45,90.67 L456.41,90.68 L457.36,90.69 L458.32,90.71 L459.27,90.72 L460.23,90.73 L461.18,90.75 L462.14,90.76 L463.09,90.77 L464.05,90.79 L465.00,90.80 L465.96,90.81 L466.92,90.83 L467.88,90.85 L468.85,90.86 L469.81,90.88 L470.77,90.89 L471.73,90.91 L472.69,90.93 L473.65,90.94 L474.62,90.96 L475.58,90.98 L476.54,90.99 L477.50,91.01 L478.46,91.02 L479.42,91.04 L480.38,91.06 L481.35,91.07 L482.31,91.09 L483.27,91.10 L484.23,91.12 L485.19,91.13 L486.15,91.15 L487.12,91.16 L488.08,91.18 L489.04,91.19 L490.00,91.20 L490.97,91.21 L491.94,91.22 L492.90,91.24 L493.87,91.25 L494.84,91.26 L495.81,91.27 L496.77,91.28 L497.74,91.29 L498.71,91.30 L499.68,91.31 L500.64,91.32 L501.61,91.33 L502.58,91.34 L503.55,91.35 L504.52,91.36 L505.48,91.37 L506.45,91.38 L507.42,91.39 L508.39,91.40 L509.35,91.41 L510.32,91.41 L511.29,91.42 L512.26,91.43 L513.23,91.44 L514.19,91.45 L515.16,91.46 L516.13,91.47 L517.10,91.47 L518.06,91.48 L519.03,91.49 L520.00,91.50 L520.98,91.51 L521.95,91.52 L522.93,91.53 L523.90,91.53 L524.88,91.54 L525.85,91.55 L526.83,91.56 L527.80,91.57 L528.78,91.57 L529.76,91.58 L530.73,91.59 L531.71,91.60 L532.68,91.61 L533.66,91.61 L534.63,91.62 L535.61,91.63 L536.59,91.64 L537.56,91.64 L538.54,91.65 L539.51,91.66 L540.49,91.67 L541.46,91.67 L542.44,91.68 L543.41,91.69 L544.39,91.70 L545.37,91.70 L546.34,91.71 L547.32,91.72 L548.29,91.72 L549.27,91.73 L550.24,91.74 L551.22,91.74 L552.20,91.75 L553.17,91.76 L554.15,91.76 L555.12,91.77 L556.10,91.78 L557.07,91.78 L558.05,91.79 L559.02,91.79 L560.00,91.80 L560.98,91.81 L561.95,91.81 L562.93,91.82 L563.90,91.82 L564.88,91.83 L565.85,91.83 L566.83,91.84 L567.80,91.84 L568.78,91.85 L569.76,91.85 L570.73,91.86 L571.71,91.86 L572.68,91.87 L573.66,91.87 L574.63,91.88 L575.61,91.88 L576.59,91.88 L577.56,91.89 L578.54,91.89 L579.51,91.90 L580.49,91.90 L581.46,91.91 L582.44,91.91 L583.41,91.92 L584.39,91.92 L585.37,91.92 L586.34,91.93 L587.32,91.93 L588.29,91.94 L589.27,91.94 L590.24,91.95 L591.22,91.95 L592.20,91.96 L593.17,91.96 L594.15,91.97 L595.12,91.97 L596.10,91.98 L597.07,91.98 L598.05,91.99 L599.02,91.99 L600.00,92.00 L600.98,92.01 L601.95,92.01 L602.93,92.02 L603.90,92.03 L604.88,92.03 L605.85,92.04 L606.83,92.05 L607.80,92.05 L608.78,92.06 L609.76,92.07 L610.73,92.08 L611.71,92.08 L612.68,92.09 L613.66,92.10 L614.63,92.11 L615.61,92.11 L616.59,92.12 L617.56,92.13 L618.54,92.14 L619.51,92.15 L620.49,92.15 L621.46,92.16 L622.44,92.17 L623.41,92.18 L624.39,92.19 L625.37,92.20 L626.34,92.20 L627.32,92.21 L628.29,92.22 L629.27,92.23 L630.24,92.23 L631.22,92.24 L632.20,92.25 L633.17,92.26 L634.15,92.26 L635.12,92.27 L636.10,92.28 L637.07,92.28 L638.05,92.29 L639.02,92.29 L640.00,92.30 L640.98,92.31 L641.97,92.31 L642.95,92.32 L643.93,92.32 L644.92,92.33 L645.90,92.33 L646.89,92.34 L647.87,92.34 L648.85,92.35 L649.84,92.36 L650.82,92.36 L651.80,92.37 L652.79,92.37 L653.77,92.38 L654.76,92.38 L655.74,92.39 L656.72,92.39 L657.71,92.40 L658.69,92.40 L659.67,92.41 L660.66,92.41 L661.64,92.42 L662.63,92.42 L663.61,92.42 L664.59,92.43 L665.58,92.43 L666.56,92.44 L667.54,92.44 L668.53,92.45 L669.51,92.45 L670.50,92.46 L671.48,92.46 L672.46,92.46 L673.45,92.47 L674.43,92.47 L675.41,92.48 L676.40,92.48 L677.38,92.48 L678.37,92.49 L679.35,92.49 L680.33,92.49 L681.32,92.50 L682.30,92.50" stroke="#000" stroke-width="2.9" stroke-dasharray="2.65 2.65" clip-path="url(#tail)"/>
<path d="M46.50,94.50 L46.55,95.54 L46.69,96.32 L46.90,96.80 L47.36,97.01 L48.00,97.10 L48.86,97.09 L49.73,97.08 L50.60,97.06 L51.48,97.03 L52.36,97.00 L53.24,96.97 L54.12,96.93 L55.00,96.90 L55.90,96.87 L56.80,96.83 L57.70,96.79 L58.60,96.75 L59.50,96.71 L60.40,96.66 L61.30,96.62 L62.20,96.58 L63.10,96.54 L64.00,96.50 L64.94,96.46 L65.88,96.42 L66.82,96.39 L67.76,96.35 L68.71,96.32 L69.65,96.28 L70.59,96.25 L71.53,96.21 L72.47,96.18 L73.41,96.14 L74.35,96.11 L75.29,96.08 L76.24,96.04 L77.18,96.01 L78.12,95.97 L79.06,95.94 L80.00,95.90 L80.95,95.86 L81.90,95.82 L82.86,95.79 L83.81,95.75 L84.76,95.71 L85.71,95.67 L86.67,95.63 L87.62,95.59 L88.57,95.55 L89.52,95.51 L90.48,95.47 L91.43,95.43 L92.38,95.39 L93.33,95.35 L94.29,95.31 L95.24,95.28 L96.19,95.24 L97.14,95.20 L98.09,95.17 L99.05,95.13 L100.00,95.10 L100.95,95.07 L101.90,95.04 L102.86,95.00 L103.81,94.97 L104.76,94.94 L105.71,94.91 L106.67,94.88 L107.62,94.85 L108.57,94.83 L109.52,94.80 L110.48,94.77 L111.43,94.74 L112.38,94.71 L113.33,94.69 L114.29,94.66 L115.24,94.63 L116.19,94.60 L117.14,94.58 L118.10,94.55 L119.05,94.53 L120.00,94.50 L120.95,94.47 L121.90,94.45 L122.86,94.42 L123.81,94.40 L124.76,94.37 L125.71,94.35 L126.67,94.32 L127.62,94.29 L128.57,94.27 L129.52,94.24 L130.48,94.22 L131.43,94.20 L132.38,94.17 L133.33,94.15 L134.29,94.13 L135.24,94.10 L136.19,94.08 L137.14,94.06 L138.10,94.04 L139.05,94.02 L140.00,94.00 L140.97,93.98 L141.94,93.96 L142.90,93.94 L143.87,93.92 L144.84,93.90 L145.81,93.88 L146.77,93.86 L147.74,93.84 L148.71,93.82 L149.68,93.80 L150.64,93.78 L151.61,93.76 L152.58,93.74 L153.55,93.72 L154.52,93.70 L155.48,93.68 L156.45,93.66 L157.42,93.64 L158.39,93.63 L159.35,93.61 L160.32,93.60 L161.29,93.58 L162.26,93.57 L163.23,93.56 L164.19,93.55 L165.16,93.53 L166.13,93.53 L167.10,93.52 L168.06,93.51 L169.03,93.50 L170.00,93.50 L170.98,93.50 L171.96,93.49 L172.94,93.49 L173.92,93.49 L174.90,93.48 L175.88,93.48 L176.86,93.48 L177.84,93.47 L178.82,93.47 L179.80,93.47 L180.78,93.46 L181.76,93.46 L182.74,93.46 L183.72,93.45 L184.71,93.45 L185.69,93.45 L186.67,93.45 L187.65,93.44 L188.63,93.44 L189.61,93.44 L190.59,93.44 L191.57,93.43 L192.55,93.43 L193.53,93.43 L194.51,93.43 L195.49,93.43 L196.47,93.42 L197.45,93.42 L198.43,93.42 L199.41,93.42 L200.39,93.42 L201.37,93.41 L202.35,93.41 L203.33,93.41 L204.31,93.41 L205.29,93.41 L206.27,93.41 L207.25,93.41 L208.24,93.41 L209.22,93.40 L210.20,93.40 L211.18,93.40 L212.16,93.40 L213.14,93.40 L214.12,93.40 L215.10,93.40 L216.08,93.40 L217.06,93.40 L218.04,93.40 L219.02,93.40 L220.00,93.40 L220.99,93.40 L221.98,93.40 L222.96,93.40 L223.95,93.40 L224.94,93.40 L225.93,93.40 L226.91,93.40 L227.90,93.40 L228.89,93.40 L229.88,93.40 L230.86,93.40 L231.85,93.40 L232.84,93.40 L233.83,93.40 L234.81,93.41 L235.80,93.41 L236.79,93.41 L237.78,93.41 L238.77,93.41 L239.75,93.41 L240.74,93.41 L241.73,93.41 L242.72,93.41 L243.70,93.41 L244.69,93.41 L245.68,93.42 L246.67,93.42 L247.65,93.42 L248.64,93.42 L249.63,93.42 L250.62,93.42 L251.60,93.42 L252.59,93.42 L253.58,93.43 L254.57,93.43 L255.56,93.43 L256.54,93.43 L257.53,93.43 L258.52,93.43 L259.51,93.43 L260.49,93.44 L261.48,93.44 L262.47,93.44 L263.46,93.44 L264.44,93.44 L265.43,93.44 L266.42,93.44 L267.41,93.45 L268.40,93.45 L269.38,93.45 L270.37,93.45 L271.36,93.45 L272.35,93.45 L273.33,93.46 L274.32,93.46 L275.31,93.46 L276.30,93.46 L277.28,93.46 L278.27,93.46 L279.26,93.47 L280.25,93.47 L281.23,93.47 L282.22,93.47 L283.21,93.47 L284.20,93.47 L285.19,93.48 L286.17,93.48 L287.16,93.48 L288.15,93.48 L289.14,93.48 L290.12,93.48 L291.11,93.49 L292.10,93.49 L293.09,93.49 L294.07,93.49 L295.06,93.49 L296.05,93.49 L297.04,93.50 L298.02,93.50 L299.01,93.50 L300.00,93.50 L300.99,93.50 L301.98,93.50 L302.97,93.50 L303.96,93.51 L304.95,93.51 L305.94,93.51 L306.93,93.51 L307.92,93.51 L308.91,93.51 L309.90,93.51 L310.89,93.52 L311.88,93.52 L312.87,93.52 L313.86,93.52 L314.85,93.52 L315.84,93.52 L316.83,93.52 L317.82,93.53 L318.81,93.53 L319.80,93.53 L320.79,93.53 L321.78,93.53 L322.77,93.53 L323.76,93.53 L324.75,93.54 L325.74,93.54 L326.73,93.54 L327.72,93.54 L328.71,93.54 L329.70,93.54 L330.69,93.55 L331.68,93.55 L332.67,93.55 L333.66,93.55 L334.65,93.55 L335.64,93.55 L336.63,93.55 L337.62,93.56 L338.61,93.56 L339.60,93.56 L340.59,93.56 L341.58,93.56 L342.57,93.56 L343.56,93.57 L344.55,93.57 L345.54,93.57 L346.53,93.57 L347.52,93.57 L348.52,93.57 L349.51,93.58 L350.50,93.58 L351.49,93.58 L352.48,93.58 L353.47,93.58 L354.46,93.58 L355.45,93.59 L356.44,93.59 L357.43,93.59 L358.42,93.59 L359.41,93.59 L360.40,93.60 L361.39,93.60 L362.38,93.60 L363.37,93.60 L364.36,93.60 L365.35,93.61 L366.34,93.61 L367.33,93.61 L368.32,93.61 L369.31,93.61 L370.30,93.62 L371.29,93.62 L372.28,93.62 L373.27,93.62 L374.26,93.63 L375.25,93.63 L376.24,93.63 L377.23,93.63 L378.22,93.64 L379.21,93.64 L380.20,93.64 L381.19,93.64 L382.18,93.65 L383.17,93.65 L384.16,93.65 L385.15,93.65 L386.14,93.66 L387.13,93.66 L388.12,93.66 L389.11,93.67 L390.10,93.67 L391.09,93.67 L392.08,93.67 L393.07,93.68 L394.06,93.68 L395.05,93.68 L396.04,93.69 L397.03,93.69 L398.02,93.69 L399.01,93.70 L400.00,93.70 L400.98,93.70 L401.96,93.71 L402.94,93.71 L403.92,93.72 L404.90,93.72 L405.88,93.73 L406.86,93.73 L407.84,93.74 L408.82,93.75 L409.80,93.75 L410.78,93.76 L411.76,93.77 L412.75,93.77 L413.73,93.78 L414.71,93.79 L415.69,93.80 L416.67,93.81 L417.65,93.82 L418.63,93.82 L419.61,93.83 L420.59,93.84 L421.57,93.85 L422.55,93.86 L423.53,93.87 L424.51,93.88 L425.49,93.89 L426.47,93.90 L427.45,93.91 L428.43,93.92 L429.41,93.93 L430.39,93.94 L431.37,93.94 L432.35,93.95 L433.33,93.96 L434.31,93.97 L435.29,93.98 L436.27,93.99 L437.25,94.00 L438.24,94.01 L439.22,94.02 L440.20,94.03 L441.18,94.03 L442.16,94.04 L443.14,94.05 L444.12,94.06 L445.10,94.07 L446.08,94.07 L447.06,94.08 L448.04,94.09 L449.02,94.09 L450.00,94.10 L450.98,94.11 L451.95,94.11 L452.93,94.12 L453.90,94.12 L454.88,94.13 L455.85,94.14 L456.83,94.14 L457.80,94.15 L458.78,94.15 L459.76,94.16 L460.73,94.16 L461.71,94.17 L462.68,94.17 L463.66,94.18 L464.63,94.19 L465.61,94.19 L466.59,94.20 L467.56,94.20 L468.54,94.21 L469.51,94.21 L470.49,94.22 L471.46,94.22 L472.44,94.23 L473.41,94.23 L474.39,94.24 L475.37,94.24 L476.34,94.24 L477.32,94.25 L478.29,94.25 L479.27,94.26 L480.24,94.26 L481.22,94.27 L482.20,94.27 L483.17,94.27 L484.15,94.28 L485.12,94.28 L486.10,94.29 L487.07,94.29 L488.05,94.29 L489.02,94.30 L490.00,94.30 L490.98,94.30 L491.95,94.31 L492.93,94.31 L493.90,94.31 L494.88,94.32 L495.85,94.32 L496.83,94.32 L497.80,94.33 L498.78,94.33 L499.76,94.33 L500.73,94.34 L501.71,94.34 L502.68,94.34 L503.66,94.35 L504.63,94.35 L505.61,94.35 L506.59,94.36 L507.56,94.36 L508.54,94.36 L509.51,94.37 L510.49,94.37 L511.46,94.37 L512.44,94.37 L513.41,94.38 L514.39,94.38 L515.37,94.38 L516.34,94.38 L517.32,94.39 L518.29,94.39 L519.27,94.39 L520.24,94.39 L521.22,94.39 L522.20,94.39 L523.17,94.40 L524.15,94.40 L525.12,94.40 L526.10,94.40 L527.07,94.40 L528.05,94.40 L529.02,94.40 L530.00,94.40 L530.99,94.40 L531.97,94.40 L532.96,94.40 L533.94,94.40 L534.93,94.40 L535.92,94.40 L536.90,94.40 L537.89,94.40 L538.87,94.40 L539.86,94.40 L540.85,94.40 L541.83,94.40 L542.82,94.40 L543.80,94.40 L544.79,94.40 L545.77,94.40 L546.76,94.40 L547.75,94.40 L548.73,94.40 L549.72,94.40 L550.70,94.40 L551.69,94.40 L552.68,94.40 L553.66,94.40 L554.65,94.40 L555.63,94.40 L556.62,94.40 L557.61,94.40 L558.59,94.40 L559.58,94.40 L560.56,94.40 L561.55,94.40 L562.54,94.40 L563.52,94.40 L564.51,94.40 L565.49,94.40 L566.48,94.40 L567.46,94.40 L568.45,94.40 L569.44,94.40 L570.42,94.40 L571.41,94.40 L572.39,94.40 L573.38,94.40 L574.37,94.40 L575.35,94.40 L576.34,94.40 L577.32,94.40 L578.31,94.40 L579.30,94.40 L580.28,94.40 L581.27,94.40 L582.25,94.40 L583.24,94.40 L584.23,94.40 L585.21,94.40 L586.20,94.40 L587.18,94.40 L588.17,94.40 L589.15,94.40 L590.14,94.40 L591.13,94.40 L592.11,94.40 L593.10,94.40 L594.08,94.40 L595.07,94.40 L596.06,94.40 L597.04,94.40 L598.03,94.40 L599.01,94.40 L600.00,94.40 L600.99,94.40 L601.98,94.40 L602.97,94.40 L603.97,94.40 L604.96,94.40 L605.95,94.40 L606.94,94.40 L607.93,94.40 L608.92,94.40 L609.92,94.40 L610.91,94.40 L611.90,94.40 L612.89,94.40 L613.88,94.40 L614.87,94.40 L615.87,94.40 L616.86,94.40 L617.85,94.40 L618.84,94.40 L619.83,94.40 L620.82,94.40 L621.81,94.40 L622.81,94.40 L623.80,94.40 L624.79,94.40 L625.78,94.40 L626.77,94.40 L627.76,94.40 L628.76,94.40 L629.75,94.40 L630.74,94.40 L631.73,94.40 L632.72,94.40 L633.71,94.40 L634.70,94.40 L635.70,94.40 L636.69,94.40 L637.68,94.40 L638.67,94.40 L639.66,94.40 L640.65,94.40 L641.65,94.40 L642.64,94.40 L643.63,94.40 L644.62,94.40 L645.61,94.40 L646.60,94.40 L647.60,94.40 L648.59,94.40 L649.58,94.40 L650.57,94.40 L651.56,94.40 L652.55,94.40 L653.54,94.40 L654.54,94.40 L655.53,94.40 L656.52,94.40 L657.51,94.40 L658.50,94.40 L659.49,94.40 L660.49,94.40 L661.48,94.40 L662.47,94.40 L663.46,94.40 L664.45,94.40 L665.44,94.40 L666.43,94.40 L667.43,94.40 L668.42,94.40 L669.41,94.40 L670.40,94.40 L671.39,94.40 L672.38,94.40 L673.38,94.40 L674.37,94.40 L675.36,94.40 L676.35,94.40 L677.34,94.40 L678.33,94.40 L679.33,94.40 L680.32,94.40 L681.31,94.40 L682.30,94.40" stroke="#ff0000" stroke-width="3.3"/>
</g>
<text x="40.0" y="23.60" text-anchor="end" class="tl">5</text>
<text x="40.0" y="99.70" text-anchor="end" class="tl">0</text>
<text x="40.0" y="175.80" text-anchor="end" class="tl">-5</text>
<text x="40.0" y="251.90" text-anchor="end" class="tl">-10</text>
<text x="40.0" y="328.00" text-anchor="end" class="tl">-15</text>
<text x="46.50" y="343.2" text-anchor="middle" class="tl">0</text>
<text x="152.47" y="343.2" text-anchor="middle" class="tl">1</text>
<text x="258.43" y="343.2" text-anchor="middle" class="tl">2</text>
<text x="364.40" y="343.2" text-anchor="middle" class="tl">3</text>
<text x="470.37" y="343.2" text-anchor="middle" class="tl">4</text>
<text x="576.33" y="343.2" text-anchor="middle" class="tl">5</text>
<text x="682.30" y="343.2" text-anchor="middle" class="tl">6</text>
<text transform="translate(183.4,145.80) scale(1,1.05)" text-anchor="end" class="il">0</text>
<text transform="translate(183.4,199.43) scale(1,1.05)" text-anchor="end" class="il">-0.005</text>
<text transform="translate(183.4,253.07) scale(1,1.05)" text-anchor="end" class="il">-0.01</text>
<text transform="translate(183.4,306.70) scale(1,1.05)" text-anchor="end" class="il">-0.015</text>
<text transform="translate(187.60,318.2) scale(1,1.03)" text-anchor="middle" class="il">0</text>
<text transform="translate(267.96,318.2) scale(1,1.03)" text-anchor="middle" class="il">0.05</text>
<text transform="translate(348.33,318.2) scale(1,1.03)" text-anchor="middle" class="il">0.1</text>
<text transform="translate(428.69,318.2) scale(1,1.03)" text-anchor="middle" class="il">0.15</text>
<text transform="translate(509.05,318.2) scale(1,1.03)" text-anchor="middle" class="il">0.2</text>
<text x="47.9" y="16.9" style="font-size:19px;stroke:#000;stroke-width:0.3">×</text>
<text x="59.2" y="14.6" style="font-size:15px;stroke:#000;stroke-width:0.3">10</text>
<text x="74.3" y="7.3" style="font-size:10.5px;stroke:#000;stroke-width:0.25">-3</text>
<text transform="translate(12.3,182.5) rotate(-90) scale(1.22,1)" style="font-size:18px">Δ</text>
<text transform="translate(12.3,163.3) rotate(-90)" style="font-size:16px;font-weight:bold">f</text>
<text x="364.2" y="363.6" text-anchor="middle" style="font-size:16px;font-weight:bold">Time (sec)</text>
<!-- arrow -->
<path d="M83.3,137.2 L146,151.1" stroke="#000" stroke-width="1" fill="none"/>
<path d="M156.2,153.4 L143.1,145.2 L145.7,150.5 L140.2,155.7 Z" fill="#000"/>
<!-- inset -->
<rect x="187.6" y="140.3" width="321.45" height="160.90" fill="#fff" stroke="#505050" stroke-width="1.2"/>
<path d="M267.96,301.2 V297.9 M267.96,140.3 V143.60000000000002 M348.33,301.2 V297.9 M348.33,140.3 V143.60000000000002 M428.69,301.2 V297.9 M428.69,140.3 V143.60000000000002 M187.6,194.20 H190.9 M509.05,194.20 H505.75 M187.6,247.70 H190.9 M509.05,247.70 H505.75" stroke="#505050" stroke-width="1" fill="none"/>
<g fill="none" stroke-linejoin="round">
<path d="M187.60,140.30 L188.19,140.99 L188.79,141.68 L189.39,142.36 L189.99,143.04 L190.59,143.72 L191.20,144.40 L191.81,145.08 L192.41,145.76 L193.02,146.43 L193.63,147.10 L194.26,147.76 L194.90,148.40 L195.55,149.01 L196.22,149.60 L196.90,150.17 L197.58,150.75 L198.26,151.32 L198.94,151.90 L199.60,152.50 L200.29,153.17 L200.97,153.86 L201.65,154.55 L202.32,155.25 L203.00,155.93 L203.70,156.60 L204.37,157.20 L205.06,157.78 L205.75,158.35 L206.44,158.92 L207.13,159.50 L207.80,160.10 L208.51,160.79 L209.21,161.49 L209.89,162.21 L210.59,162.91 L211.30,163.60 L211.97,164.20 L212.64,164.79 L213.33,165.37 L214.02,165.94 L214.71,166.52 L215.40,167.10 L216.08,167.68 L216.77,168.27 L217.45,168.85 L218.13,169.43 L218.82,170.02 L219.50,170.60 L220.19,171.18 L220.88,171.75 L221.58,172.32 L222.27,172.90 L222.95,173.49 L223.60,174.10 L224.28,174.78 L224.95,175.47 L225.61,176.18 L226.25,176.90 L226.88,177.63 L227.51,178.37 L228.13,179.12 L228.75,179.87 L229.37,180.62 L229.99,181.37 L230.62,182.11 L231.25,182.85 L231.89,183.58 L232.54,184.30 L233.20,185.00 L233.86,185.68 L234.53,186.36 L235.21,187.04 L235.89,187.71 L236.58,188.38 L237.27,189.04 L237.96,189.70 L238.66,190.35 L239.36,191.01 L240.06,191.66 L240.76,192.31 L241.47,192.96 L242.17,193.61 L242.88,194.26 L243.59,194.90 L244.29,195.55 L245.00,196.20 L245.70,196.85 L246.40,197.50 L247.13,198.18 L247.85,198.86 L248.58,199.54 L249.31,200.22 L250.04,200.89 L250.77,201.57 L251.49,202.25 L252.22,202.93 L252.95,203.60 L253.69,204.28 L254.42,204.95 L255.15,205.62 L255.89,206.29 L256.63,206.96 L257.37,207.62 L258.11,208.29 L258.85,208.94 L259.60,209.60 L260.32,210.23 L261.05,210.87 L261.77,211.50 L262.50,212.13 L263.23,212.76 L263.96,213.39 L264.69,214.02 L265.42,214.65 L266.16,215.27 L266.89,215.89 L267.63,216.51 L268.38,217.12 L269.12,217.73 L269.87,218.34 L270.62,218.94 L271.38,219.53 L272.14,220.12 L272.90,220.70 L273.65,221.26 L274.41,221.83 L275.17,222.38 L275.93,222.93 L276.70,223.48 L277.47,224.02 L278.25,224.56 L279.02,225.10 L279.80,225.63 L280.59,226.16 L281.37,226.69 L282.16,227.21 L282.94,227.73 L283.73,228.25 L284.52,228.77 L285.31,229.29 L286.10,229.80 L286.93,230.33 L287.75,230.87 L288.58,231.40 L289.41,231.93 L290.25,232.45 L291.08,232.97 L291.92,233.49 L292.76,234.01 L293.60,234.52 L294.45,235.02 L295.30,235.52 L296.15,236.01 L297.00,236.50 L297.86,236.98 L298.73,237.46 L299.60,237.92 L300.47,238.38 L301.34,238.84 L302.22,239.30 L303.10,239.75 L303.98,240.20 L304.86,240.65 L305.74,241.10 L306.62,241.55 L307.50,242.00 L308.37,242.45 L309.24,242.91 L310.12,243.37 L310.99,243.83 L311.86,244.28 L312.73,244.74 L313.60,245.20 L314.47,245.66 L315.34,246.12 L316.22,246.57 L317.09,247.03 L317.96,247.48 L318.84,247.93 L319.71,248.38 L320.59,248.83 L321.47,249.27 L322.35,249.71 L323.23,250.14 L324.11,250.57 L325.00,251.00 L325.86,251.41 L326.73,251.83 L327.59,252.24 L328.46,252.65 L329.33,253.06 L330.20,253.47 L331.06,253.87 L331.94,254.28 L332.81,254.68 L333.68,255.07 L334.55,255.47 L335.43,255.86 L336.31,256.25 L337.19,256.63 L338.07,257.00 L338.95,257.38 L339.84,257.74 L340.72,258.10 L341.61,258.45 L342.50,258.80 L343.41,259.15 L344.31,259.49 L345.22,259.83 L346.13,260.17 L347.05,260.51 L347.96,260.84 L348.88,261.17 L349.80,261.49 L350.72,261.81 L351.64,262.13 L352.56,262.44 L353.49,262.74 L354.41,263.04 L355.34,263.34 L356.27,263.62 L357.20,263.90 L358.13,264.18 L359.07,264.44 L360.00,264.70 L360.91,264.95 L361.83,265.19 L362.75,265.44 L363.67,265.68 L364.59,265.92 L365.51,266.15 L366.43,266.38 L367.36,266.61 L368.29,266.83 L369.21,267.05 L370.14,267.26 L371.07,267.47 L372.00,267.66 L372.93,267.86 L373.87,268.04 L374.80,268.22 L375.73,268.39 L376.67,268.55 L377.60,268.70 L378.56,268.85 L379.53,269.00 L380.50,269.15 L381.47,269.30 L382.44,269.44 L383.41,269.58 L384.38,269.72 L385.35,269.85 L386.32,269.98 L387.30,270.10 L388.27,270.22 L389.25,270.33 L390.22,270.43 L391.20,270.52 L392.17,270.60 L393.15,270.68 L394.12,270.75 L395.10,270.80 L396.06,270.85 L397.02,270.90 L397.98,270.94 L398.94,270.99 L399.91,271.03 L400.87,271.07 L401.83,271.11 L402.80,271.15 L403.76,271.18 L404.72,271.21 L405.69,271.24 L406.65,271.26 L407.61,271.28 L408.58,271.29 L409.54,271.30 L410.50,271.30 L411.45,271.29 L412.40,271.26 L413.34,271.22 L414.29,271.16 L415.24,271.09 L416.19,271.01 L417.13,270.92 L418.08,270.83 L419.03,270.73 L419.97,270.62 L420.92,270.51 L421.86,270.41 L422.80,270.30 L423.74,270.19 L424.69,270.07 L425.63,269.93 L426.57,269.79 L427.51,269.64 L428.45,269.47 L429.39,269.31 L430.33,269.13 L431.27,268.95 L432.20,268.77 L433.14,268.58 L434.07,268.39 L435.00,268.20 L435.93,268.00 L436.86,267.80 L437.78,267.58 L438.71,267.36 L439.63,267.13 L440.55,266.89 L441.47,266.65 L442.39,266.40 L443.31,266.15 L444.23,265.90 L445.15,265.64 L446.07,265.38 L446.99,265.13 L447.91,264.87 L448.82,264.61 L449.74,264.35 L450.66,264.10 L451.58,263.85 L452.50,263.60 L453.42,263.36 L454.35,263.11 L455.27,262.87 L456.19,262.64 L457.12,262.40 L458.04,262.16 L458.97,261.92 L459.89,261.68 L460.81,261.44 L461.74,261.20 L462.66,260.96 L463.58,260.72 L464.50,260.47 L465.42,260.22 L466.34,259.96 L467.26,259.70 L468.17,259.44 L469.09,259.17 L470.00,258.90 L470.94,258.61 L471.87,258.32 L472.80,258.02 L473.73,257.72 L474.66,257.41 L475.59,257.10 L476.52,256.78 L477.45,256.46 L478.37,256.14 L479.30,255.81 L480.22,255.48 L481.15,255.15 L482.07,254.81 L482.99,254.48 L483.91,254.14 L484.84,253.81 L485.76,253.47 L486.68,253.14 L487.60,252.80 L488.53,252.46 L489.45,252.12 L490.37,251.77 L491.29,251.42 L492.21,251.06 L493.13,250.71 L494.05,250.35 L494.97,249.99 L495.89,249.63 L496.81,249.27 L497.73,248.91 L498.65,248.55 L499.57,248.20 L500.49,247.84 L501.41,247.48 L502.33,247.13 L503.25,246.79 L504.17,246.44 L505.10,246.10 L505.89,245.81 L506.68,245.53 L507.47,245.25 L508.26,244.98 L509.05,244.70" stroke="#000" stroke-width="2.9" stroke-dasharray="2.65 2.65"/>
<path d="M187.60,140.30 L188.03,140.87 L188.50,141.40 L189.14,141.97 L189.83,142.51 L190.54,143.01 L191.28,143.51 L192.00,144.00 L192.81,144.55 L193.63,145.10 L194.45,145.63 L195.28,146.16 L196.10,146.70 L196.90,147.23 L197.69,147.78 L198.48,148.34 L199.26,148.90 L200.05,149.45 L200.84,150.00 L201.63,150.54 L202.44,151.07 L203.25,151.57 L204.07,152.05 L204.90,152.50 L205.76,152.93 L206.63,153.36 L207.52,153.76 L208.41,154.16 L209.31,154.55 L210.22,154.92 L211.13,155.28 L212.04,155.63 L212.96,155.96 L213.88,156.29 L214.80,156.60 L215.74,156.91 L216.68,157.21 L217.63,157.50 L218.58,157.78 L219.53,158.05 L220.49,158.32 L221.45,158.57 L222.41,158.82 L223.37,159.06 L224.34,159.28 L225.30,159.50 L226.19,159.70 L227.09,159.89 L227.98,160.08 L228.88,160.27 L229.78,160.45 L230.68,160.62 L231.58,160.79 L232.48,160.94 L233.39,161.07 L234.29,161.20 L235.20,161.30 L236.12,161.39 L237.04,161.48 L237.96,161.57 L238.89,161.64 L239.81,161.72 L240.74,161.79 L241.67,161.85 L242.59,161.91 L243.52,161.97 L244.45,162.01 L245.37,162.06 L246.30,162.10 L247.25,162.14 L248.21,162.17 L249.16,162.21 L250.12,162.24 L251.07,162.27 L252.03,162.30 L252.98,162.32 L253.94,162.35 L254.89,162.37 L255.85,162.39 L256.80,162.40 L257.77,162.41 L258.75,162.43 L259.72,162.44 L260.69,162.45 L261.66,162.46 L262.64,162.47 L263.61,162.48 L264.58,162.49 L265.55,162.50 L266.53,162.50 L267.50,162.50 L268.45,162.50 L269.41,162.50 L270.36,162.50 L271.32,162.50 L272.27,162.50 L273.23,162.50 L274.18,162.50 L275.14,162.50 L276.09,162.50 L277.05,162.50 L278.00,162.50 L278.99,162.50 L279.98,162.49 L280.97,162.47 L281.96,162.46 L282.95,162.44 L283.95,162.41 L284.94,162.39 L285.93,162.37 L286.92,162.34 L287.91,162.32 L288.90,162.30 L289.85,162.28 L290.81,162.26 L291.76,162.25 L292.72,162.23 L293.67,162.21 L294.63,162.19 L295.58,162.17 L296.54,162.15 L297.49,162.14 L298.45,162.12 L299.40,162.10 L300.36,162.08 L301.33,162.06 L302.29,162.05 L303.25,162.03 L304.22,162.01 L305.18,161.99 L306.15,161.97 L307.11,161.95 L308.07,161.94 L309.04,161.92 L310.00,161.90 L310.96,161.88 L311.93,161.86 L312.89,161.85 L313.85,161.83 L314.82,161.81 L315.78,161.80 L316.75,161.78 L317.71,161.76 L318.67,161.74 L319.64,161.72 L320.60,161.70 L321.58,161.68 L322.56,161.65 L323.55,161.62 L324.53,161.59 L325.51,161.57 L326.49,161.54 L327.47,161.51 L328.45,161.48 L329.44,161.45 L330.42,161.42 L331.40,161.40 L332.35,161.38 L333.31,161.36 L334.26,161.34 L335.22,161.32 L336.17,161.31 L337.13,161.29 L338.08,161.27 L339.04,161.26 L339.99,161.24 L340.95,161.22 L341.90,161.20 L342.89,161.18 L343.88,161.15 L344.87,161.12 L345.86,161.09 L346.85,161.07 L347.85,161.04 L348.84,161.01 L349.83,160.98 L350.82,160.95 L351.81,160.92 L352.80,160.90 L353.73,160.88 L354.65,160.86 L355.58,160.84 L356.51,160.82 L357.44,160.81 L358.36,160.79 L359.29,160.77 L360.22,160.76 L361.15,160.74 L362.07,160.72 L363.00,160.70 L363.98,160.68 L364.95,160.65 L365.93,160.63 L366.90,160.60 L367.88,160.58 L368.85,160.55 L369.82,160.52 L370.80,160.50 L371.77,160.47 L372.75,160.45 L373.72,160.42 L374.70,160.40 L375.63,160.38 L376.55,160.36 L377.48,160.34 L378.41,160.33 L379.34,160.31 L380.26,160.29 L381.19,160.28 L382.12,160.26 L383.05,160.24 L383.97,160.22 L384.90,160.20 L385.88,160.18 L386.86,160.15 L387.85,160.12 L388.83,160.09 L389.81,160.06 L390.79,160.03 L391.77,160.00 L392.75,159.98 L393.74,159.95 L394.72,159.92 L395.70,159.90 L396.67,159.88 L397.65,159.86 L398.62,159.84 L399.59,159.83 L400.56,159.81 L401.54,159.79 L402.51,159.78 L403.48,159.76 L404.45,159.74 L405.43,159.72 L406.40,159.70 L407.33,159.68 L408.25,159.65 L409.18,159.62 L410.11,159.60 L411.04,159.57 L411.96,159.54 L412.89,159.51 L413.82,159.48 L414.75,159.45 L415.67,159.42 L416.60,159.40 L417.56,159.38 L418.53,159.36 L419.49,159.34 L420.45,159.32 L421.42,159.31 L422.38,159.29 L423.35,159.27 L424.31,159.26 L425.27,159.24 L426.24,159.22 L427.20,159.20 L428.18,159.18 L429.16,159.15 L430.15,159.12 L431.13,159.09 L432.11,159.06 L433.09,159.03 L434.07,159.01 L435.05,158.98 L436.04,158.95 L437.02,158.92 L438.00,158.90 L438.97,158.88 L439.95,158.86 L440.92,158.84 L441.89,158.82 L442.86,158.81 L443.84,158.79 L444.81,158.78 L445.78,158.76 L446.75,158.74 L447.73,158.72 L448.70,158.70 L449.68,158.68 L450.66,158.65 L451.65,158.62 L452.63,158.59 L453.61,158.56 L454.59,158.54 L455.57,158.51 L456.55,158.48 L457.54,158.45 L458.52,158.42 L459.50,158.40 L460.47,158.38 L461.45,158.36 L462.42,158.34 L463.39,158.32 L464.36,158.31 L465.34,158.29 L466.31,158.28 L467.28,158.26 L468.25,158.24 L469.23,158.22 L470.20,158.20 L471.18,158.18 L472.16,158.15 L473.15,158.12 L474.13,158.10 L475.11,158.07 L476.09,158.04 L477.07,158.01 L478.05,157.98 L479.04,157.95 L480.02,157.92 L481.00,157.90 L481.93,157.88 L482.85,157.86 L483.78,157.84 L484.71,157.82 L485.64,157.80 L486.56,157.79 L487.49,157.77 L488.42,157.75 L489.35,157.73 L490.27,157.72 L491.20,157.70 L492.17,157.68 L493.15,157.66 L494.12,157.65 L495.09,157.63 L496.06,157.61 L497.04,157.60 L498.01,157.58 L498.98,157.56 L499.95,157.54 L500.93,157.52 L501.90,157.50 L502.79,157.48 L503.69,157.46 L504.58,157.43 L505.48,157.41 L506.37,157.38 L507.26,157.36 L508.16,157.33 L509.05,157.30" stroke="#0000ff" stroke-width="2.8" stroke-dasharray="10.5 10.8"/>
<path d="M187.60,140.30 L187.85,141.32 L188.30,141.90 L189.06,142.11 L190.00,142.20 L190.99,142.20 L191.97,142.20 L192.96,142.20 L193.95,142.20 L194.93,142.20 L195.92,142.20 L196.91,142.20 L197.90,142.20 L198.88,142.20 L199.87,142.20 L200.86,142.20 L201.85,142.20 L202.83,142.20 L203.82,142.20 L204.81,142.20 L205.79,142.20 L206.78,142.20 L207.77,142.20 L208.76,142.20 L209.74,142.20 L210.73,142.20 L211.72,142.20 L212.71,142.20 L213.70,142.20 L214.68,142.20 L215.67,142.20 L216.66,142.20 L217.65,142.20 L218.63,142.20 L219.62,142.20 L220.61,142.20 L221.60,142.20 L222.59,142.20 L223.57,142.20 L224.56,142.20 L225.55,142.20 L226.54,142.20 L227.53,142.20 L228.52,142.20 L229.50,142.20 L230.49,142.20 L231.48,142.20 L232.47,142.20 L233.46,142.20 L234.45,142.20 L235.44,142.20 L236.42,142.20 L237.41,142.20 L238.40,142.20 L239.39,142.20 L240.38,142.20 L241.37,142.20 L242.36,142.20 L243.35,142.20 L244.34,142.20 L245.33,142.20 L246.31,142.20 L247.30,142.20 L248.29,142.20 L249.28,142.20 L250.27,142.20 L251.26,142.20 L252.25,142.20 L253.24,142.20 L254.23,142.20 L255.22,142.20 L256.21,142.20 L257.20,142.20 L258.19,142.20 L259.18,142.20 L260.17,142.20 L261.16,142.20 L262.15,142.20 L263.14,142.20 L264.13,142.20 L265.12,142.20 L266.11,142.20 L267.10,142.20 L268.09,142.20 L269.08,142.20 L270.07,142.20 L271.06,142.20 L272.05,142.20 L273.04,142.20 L274.03,142.20 L275.02,142.20 L276.01,142.20 L277.01,142.20 L278.00,142.20 L278.99,142.20 L279.98,142.20 L280.97,142.20 L281.96,142.20 L282.95,142.20 L283.94,142.20 L284.93,142.20 L285.93,142.20 L286.92,142.20 L287.91,142.20 L288.90,142.20 L289.89,142.20 L290.88,142.20 L291.87,142.20 L292.87,142.20 L293.86,142.20 L294.85,142.20 L295.84,142.20 L296.83,142.20 L297.83,142.20 L298.82,142.20 L299.81,142.20 L300.80,142.20 L301.80,142.20 L302.79,142.20 L303.78,142.20 L304.77,142.20 L305.77,142.20 L306.76,142.20 L307.75,142.20 L308.74,142.20 L309.74,142.20 L310.73,142.20 L311.72,142.20 L312.72,142.20 L313.71,142.20 L314.70,142.20 L315.70,142.20 L316.69,142.20 L317.68,142.20 L318.68,142.20 L319.67,142.20 L320.66,142.20 L321.66,142.20 L322.65,142.20 L323.64,142.20 L324.64,142.20 L325.63,142.20 L326.63,142.20 L327.62,142.20 L328.62,142.20 L329.61,142.20 L330.60,142.20 L331.60,142.20 L332.59,142.20 L333.59,142.20 L334.58,142.20 L335.58,142.20 L336.57,142.20 L337.57,142.20 L338.56,142.20 L339.56,142.20 L340.55,142.20 L341.55,142.20 L342.54,142.20 L343.54,142.20 L344.53,142.20 L345.53,142.20 L346.52,142.20 L347.52,142.20 L348.52,142.20 L349.51,142.20 L350.51,142.20 L351.50,142.20 L352.50,142.20 L353.50,142.20 L354.49,142.20 L355.49,142.20 L356.48,142.20 L357.48,142.20 L358.48,142.20 L359.47,142.20 L360.47,142.20 L361.47,142.20 L362.46,142.20 L363.46,142.20 L364.46,142.20 L365.46,142.20 L366.45,142.20 L367.45,142.20 L368.45,142.20 L369.45,142.20 L370.44,142.20 L371.44,142.20 L372.44,142.20 L373.44,142.20 L374.43,142.20 L375.43,142.20 L376.43,142.20 L377.43,142.20 L378.43,142.20 L379.42,142.20 L380.42,142.20 L381.42,142.20 L382.42,142.20 L383.42,142.20 L384.42,142.20 L385.42,142.20 L386.42,142.20 L387.41,142.20 L388.41,142.20 L389.41,142.20 L390.41,142.20 L391.41,142.20 L392.41,142.20 L393.41,142.20 L394.41,142.20 L395.41,142.20 L396.41,142.20 L397.41,142.20 L398.41,142.20 L399.41,142.20 L400.41,142.20 L401.41,142.20 L402.41,142.20 L403.41,142.20 L404.41,142.20 L405.41,142.20 L406.41,142.20 L407.41,142.20 L408.42,142.20 L409.42,142.20 L410.42,142.20 L411.42,142.20 L412.42,142.20 L413.42,142.20 L414.42,142.20 L415.43,142.20 L416.43,142.20 L417.43,142.20 L418.43,142.20 L419.43,142.20 L420.44,142.20 L421.44,142.20 L422.44,142.20 L423.44,142.20 L424.45,142.20 L425.45,142.20 L426.45,142.20 L427.45,142.20 L428.46,142.20 L429.46,142.20 L430.46,142.20 L431.47,142.20 L432.47,142.20 L433.47,142.20 L434.48,142.20 L435.48,142.20 L436.48,142.20 L437.49,142.20 L438.49,142.20 L439.50,142.20 L440.50,142.20 L441.50,142.20 L442.51,142.20 L443.51,142.20 L444.52,142.20 L445.52,142.20 L446.53,142.20 L447.53,142.20 L448.54,142.20 L449.54,142.20 L450.55,142.20 L451.55,142.20 L452.56,142.20 L453.56,142.20 L454.57,142.20 L455.58,142.20 L456.58,142.20 L457.59,142.20 L458.59,142.20 L459.60,142.20 L460.61,142.20 L461.61,142.20 L462.62,142.20 L463.63,142.20 L464.63,142.20 L465.64,142.20 L466.65,142.20 L467.65,142.20 L468.66,142.20 L469.67,142.20 L470.68,142.20 L471.68,142.20 L472.69,142.20 L473.70,142.20 L474.71,142.20 L475.72,142.20 L476.72,142.20 L477.73,142.20 L478.74,142.20 L479.75,142.20 L480.76,142.20 L481.77,142.20 L482.78,142.20 L483.79,142.20 L484.79,142.20 L485.80,142.20 L486.81,142.20 L487.82,142.20 L488.83,142.20 L489.84,142.20 L490.85,142.20 L491.86,142.20 L492.87,142.20 L493.88,142.20 L494.89,142.20 L495.90,142.20 L496.91,142.20 L497.92,142.20 L498.94,142.20 L499.95,142.20 L500.96,142.20 L501.97,142.20 L502.98,142.20 L503.99,142.20 L505.00,142.20 L506.01,142.20 L507.03,142.20 L508.04,142.20 L509.05,142.20" stroke="#ff0000" stroke-width="3.2"/>
</g>
<!-- legend -->
<rect x="519.5" y="26.5" width="143.2" height="49.7" fill="#fff" stroke="#505050" stroke-width="1"/>
<path d="M524.2,35.8 H568.2" stroke="#000" stroke-width="2.9" stroke-dasharray="2.65 2.65"/>
<path d="M524.2,51.4 H568.2" stroke="#0000ff" stroke-width="2.8" stroke-dasharray="10.5 10.8"/>
<path d="M524.2,66.9 H568.2" stroke="#ff0000" stroke-width="3.2"/>
<text transform="translate(571.7,40.8) scale(1,1.03)" class="lg">1PD-PI/PSO</text>
<text transform="translate(571.7,56.3) scale(1,1.03)" class="lg">1PD-PI/WOA</text>
<text transform="translate(571.7,71.7) scale(1,1.03)" class="lg">1PD-PI/MTBO</text>
</svg>
</body></html>
